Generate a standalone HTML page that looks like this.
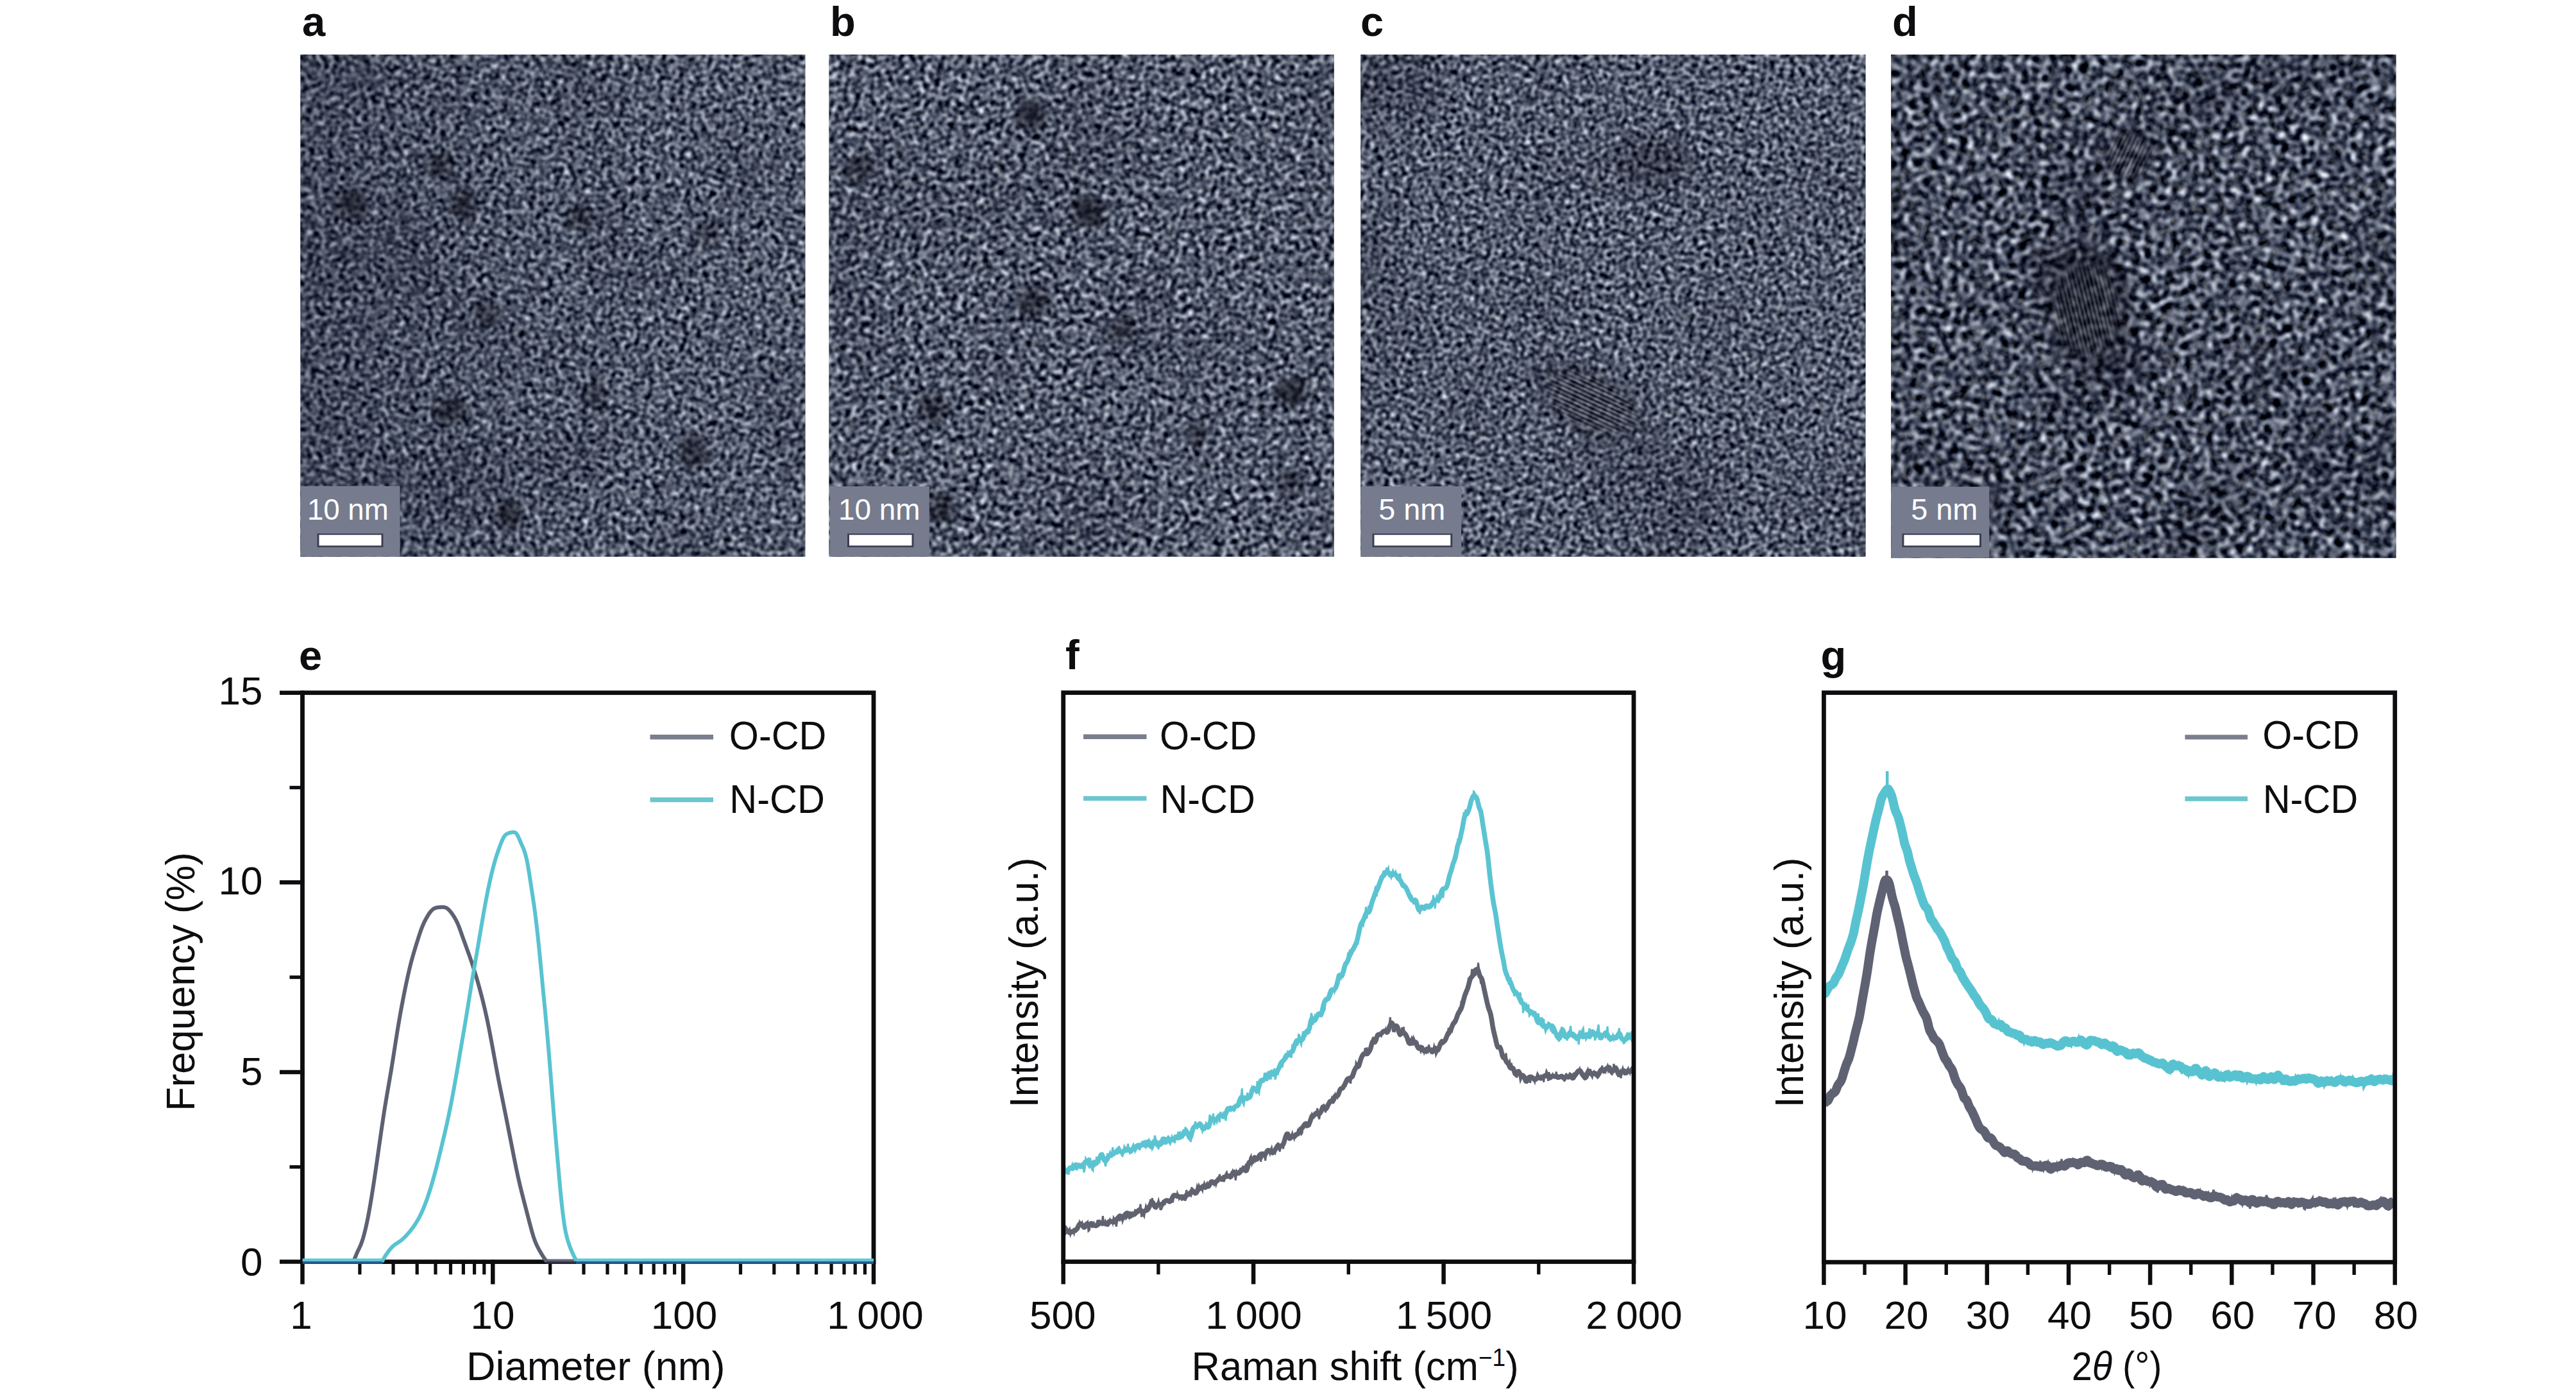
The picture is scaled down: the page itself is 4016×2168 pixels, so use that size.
<!DOCTYPE html>
<html lang="en"><head><meta charset="utf-8"><title>Figure</title>
<style>html,body{margin:0;padding:0;background:#fff;width:4016px;height:2168px;overflow:hidden}svg{display:block}</style></head>
<body>
<svg width="4016" height="2168" viewBox="0 0 4016 2168" font-family="'Liberation Sans', 'DejaVu Sans', sans-serif">
<defs><filter id="n00" x="0" y="0" width="100%" height="100%" filterUnits="objectBoundingBox" color-interpolation-filters="sRGB">
<feTurbulence type="fractalNoise" baseFrequency="0.1150" numOctaves="1" seed="3" result="t"/>
<feColorMatrix in="t" type="matrix" values="1.877 0 0 0 -0.618  1.877 0 0 0 -0.588  1.783 0 0 0 -0.469  0 0 0 0 1"/>
</filter>
<filter id="n01" x="0" y="0" width="100%" height="100%" filterUnits="objectBoundingBox" color-interpolation-filters="sRGB">
<feTurbulence type="fractalNoise" baseFrequency="0.1219" numOctaves="1" seed="103" result="t"/>
<feColorMatrix in="t" type="matrix" values="1.877 0 0 0 -0.618  1.877 0 0 0 -0.588  1.783 0 0 0 -0.469  0 0 0 0 1"/>
</filter>
<clipPath id="cp0"><rect x="468.5" y="85" width="786.8" height="782.5"/></clipPath>
<filter id="n10" x="0" y="0" width="100%" height="100%" filterUnits="objectBoundingBox" color-interpolation-filters="sRGB">
<feTurbulence type="fractalNoise" baseFrequency="0.1100" numOctaves="1" seed="11" result="t"/>
<feColorMatrix in="t" type="matrix" values="2.070 0 0 0 -0.715  2.070 0 0 0 -0.685  1.966 0 0 0 -0.561  0 0 0 0 1"/>
</filter>
<filter id="n11" x="0" y="0" width="100%" height="100%" filterUnits="objectBoundingBox" color-interpolation-filters="sRGB">
<feTurbulence type="fractalNoise" baseFrequency="0.1166" numOctaves="1" seed="111" result="t"/>
<feColorMatrix in="t" type="matrix" values="2.070 0 0 0 -0.715  2.070 0 0 0 -0.685  1.966 0 0 0 -0.561  0 0 0 0 1"/>
</filter>
<clipPath id="cp1"><rect x="1292.6" y="85" width="786.9" height="782.5"/></clipPath>
<filter id="n20" x="0" y="0" width="100%" height="100%" filterUnits="objectBoundingBox" color-interpolation-filters="sRGB">
<feTurbulence type="fractalNoise" baseFrequency="0.1200" numOctaves="1" seed="23" result="t"/>
<feColorMatrix in="t" type="matrix" values="1.932 0 0 0 -0.641  1.932 0 0 0 -0.611  1.835 0 0 0 -0.490  0 0 0 0 1"/>
</filter>
<filter id="n21" x="0" y="0" width="100%" height="100%" filterUnits="objectBoundingBox" color-interpolation-filters="sRGB">
<feTurbulence type="fractalNoise" baseFrequency="0.1272" numOctaves="1" seed="123" result="t"/>
<feColorMatrix in="t" type="matrix" values="1.932 0 0 0 -0.641  1.932 0 0 0 -0.611  1.835 0 0 0 -0.490  0 0 0 0 1"/>
</filter>
<clipPath id="cp2"><rect x="2121.4" y="85" width="786.9" height="782.5"/></clipPath>
<filter id="n30" x="0" y="0" width="100%" height="100%" filterUnits="objectBoundingBox" color-interpolation-filters="sRGB">
<feTurbulence type="fractalNoise" baseFrequency="0.0860" numOctaves="1" seed="41" result="t"/>
<feColorMatrix in="t" type="matrix" values="2.484 0 0 0 -0.972  2.484 0 0 0 -0.942  2.360 0 0 0 -0.805  0 0 0 0 1"/>
</filter>
<filter id="n31" x="0" y="0" width="100%" height="100%" filterUnits="objectBoundingBox" color-interpolation-filters="sRGB">
<feTurbulence type="fractalNoise" baseFrequency="0.0912" numOctaves="1" seed="141" result="t"/>
<feColorMatrix in="t" type="matrix" values="2.484 0 0 0 -0.972  2.484 0 0 0 -0.942  2.360 0 0 0 -0.805  0 0 0 0 1"/>
</filter>
<clipPath id="cp3"><rect x="2948.3" y="85" width="787.0" height="784.5"/></clipPath>
<linearGradient id="ga" x1="0" x2="1" y1="0" y2="0"><stop offset="0" stop-color="#0a0c1c" stop-opacity="0.2"/><stop offset="0.55" stop-color="#0a0c1c" stop-opacity="0"/></linearGradient>
<filter id="lf0" x="0" y="0" width="100%" height="100%" color-interpolation-filters="sRGB"><feTurbulence type="fractalNoise" baseFrequency="0.006" numOctaves="2" seed="5"/><feColorMatrix type="matrix" values="0 0 0 0 0.03  0 0 0 0 0.035  0 0 0 0 0.09  0.5 0 0 0 -0.25"/></filter>
<filter id="lf1" x="0" y="0" width="100%" height="100%" color-interpolation-filters="sRGB"><feTurbulence type="fractalNoise" baseFrequency="0.005" numOctaves="2" seed="9"/><feColorMatrix type="matrix" values="0 0 0 0 0.03  0 0 0 0 0.035  0 0 0 0 0.09  0.5 0 0 0 -0.25"/></filter>
<filter id="lf2" x="0" y="0" width="100%" height="100%" color-interpolation-filters="sRGB"><feTurbulence type="fractalNoise" baseFrequency="0.0045" numOctaves="2" seed="17"/><feColorMatrix type="matrix" values="0 0 0 0 0.03  0 0 0 0 0.035  0 0 0 0 0.09  0.8 0 0 0 -0.4"/></filter>
<filter id="lf3" x="0" y="0" width="100%" height="100%" color-interpolation-filters="sRGB"><feTurbulence type="fractalNoise" baseFrequency="0.006" numOctaves="2" seed="29"/><feColorMatrix type="matrix" values="0 0 0 0 0.03  0 0 0 0 0.035  0 0 0 0 0.09  1.0 0 0 0 -0.5"/></filter>
<pattern id="fr" width="6.4" height="6.4" patternUnits="userSpaceOnUse"><rect width="6.4" height="2.8" fill="#0b0c18"/><rect y="2.8" width="6.4" height="3.6" fill="#9aa2b0"/></pattern><radialGradient id="fm"><stop offset="0" stop-color="#fff"/><stop offset="0.6" stop-color="#fff" stop-opacity="0.8"/><stop offset="1" stop-color="#fff" stop-opacity="0"/></radialGradient>
<radialGradient id="bl"><stop offset="0" stop-color="#0a0a14" stop-opacity="1"/><stop offset="0.55" stop-color="#0a0a14" stop-opacity="0.65"/><stop offset="1" stop-color="#0a0a14" stop-opacity="0"/></radialGradient></defs>
<rect width="4016" height="2168" fill="#fff"/>
<rect x="468.5" y="85" width="786.8" height="782.5" fill="#666b7d"/>
<g clip-path="url(#cp0)"><rect x="281.9" y="-103.8" width="1160" height="1160" filter="url(#n00)" transform="rotate(19 861.9 476.2)"/><rect x="281.9" y="-103.8" width="1160" height="1160" filter="url(#n01)" opacity="0.5" transform="rotate(64 861.9 476.2)"/></g>
<rect x="468.5" y="85" width="786.8" height="782.5" filter="url(#lf0)"/>
<rect x="468.5" y="85" width="786.8" height="782.5" fill="url(#ga)"/>
<ellipse cx="547" cy="319" rx="31.2" ry="31.2" fill="url(#bl)" opacity="0.63" transform="rotate(0 547 319)"/>
<ellipse cx="688" cy="256" rx="28.8" ry="28.8" fill="url(#bl)" opacity="0.56" transform="rotate(0 688 256)"/>
<ellipse cx="723" cy="319" rx="28.8" ry="33.6" fill="url(#bl)" opacity="0.63" transform="rotate(0 723 319)"/>
<ellipse cx="905" cy="340" rx="28.8" ry="28.8" fill="url(#bl)" opacity="0.49" transform="rotate(0 905 340)"/>
<ellipse cx="1102" cy="365" rx="28.8" ry="28.8" fill="url(#bl)" opacity="0.42" transform="rotate(0 1102 365)"/>
<ellipse cx="758" cy="491" rx="31.2" ry="28.8" fill="url(#bl)" opacity="0.49" transform="rotate(0 758 491)"/>
<ellipse cx="926" cy="618" rx="28.8" ry="31.2" fill="url(#bl)" opacity="0.49" transform="rotate(0 926 618)"/>
<ellipse cx="702" cy="639" rx="33.6" ry="28.8" fill="url(#bl)" opacity="0.63" transform="rotate(0 702 639)"/>
<ellipse cx="1081" cy="705" rx="31.2" ry="36.0" fill="url(#bl)" opacity="0.63" transform="rotate(0 1081 705)"/>
<ellipse cx="793" cy="800" rx="28.8" ry="31.2" fill="url(#bl)" opacity="0.63" transform="rotate(0 793 800)"/>
<rect x="469" y="757.5" width="154.5" height="110.0" fill="#767c8e"/>
<text x="478.9" y="810" font-size="45.5" fill="#fff" textLength="126.8" lengthAdjust="spacingAndGlyphs">10 nm</text>
<rect x="494.5" y="831.5" width="103.0" height="21.5" fill="#3c3f52"/>
<rect x="497.5" y="833.7" width="97.0" height="16.6" fill="#fff"/>
<rect x="1292.6" y="85" width="786.9" height="782.5" fill="#666b7d"/>
<g clip-path="url(#cp1)"><rect x="1106.0" y="-103.8" width="1160" height="1160" filter="url(#n10)" transform="rotate(19 1686.0 476.2)"/><rect x="1106.0" y="-103.8" width="1160" height="1160" filter="url(#n11)" opacity="0.5" transform="rotate(64 1686.0 476.2)"/></g>
<rect x="1292.6" y="85" width="786.9" height="782.5" filter="url(#lf1)"/>
<ellipse cx="1607" cy="179" rx="33.6" ry="33.6" fill="url(#bl)" opacity="0.7" transform="rotate(0 1607 179)"/>
<ellipse cx="1340" cy="263" rx="31.2" ry="31.2" fill="url(#bl)" opacity="0.56" transform="rotate(0 1340 263)"/>
<ellipse cx="1698" cy="330" rx="33.6" ry="33.6" fill="url(#bl)" opacity="0.77" transform="rotate(0 1698 330)"/>
<ellipse cx="1611" cy="470" rx="33.6" ry="33.6" fill="url(#bl)" opacity="0.63" transform="rotate(0 1611 470)"/>
<ellipse cx="1747" cy="516" rx="31.2" ry="28.8" fill="url(#bl)" opacity="0.49" transform="rotate(0 1747 516)"/>
<ellipse cx="2014" cy="611" rx="36.0" ry="31.2" fill="url(#bl)" opacity="0.7" transform="rotate(0 2014 611)"/>
<ellipse cx="1453" cy="635" rx="33.6" ry="31.2" fill="url(#bl)" opacity="0.63" transform="rotate(0 1453 635)"/>
<ellipse cx="1867" cy="677" rx="28.8" ry="28.8" fill="url(#bl)" opacity="0.42" transform="rotate(0 1867 677)"/>
<ellipse cx="2014" cy="751" rx="28.8" ry="28.8" fill="url(#bl)" opacity="0.49" transform="rotate(0 2014 751)"/>
<ellipse cx="1467" cy="793" rx="31.2" ry="33.6" fill="url(#bl)" opacity="0.63" transform="rotate(0 1467 793)"/>
<rect x="1293.5" y="758" width="155.3" height="109.5" fill="#767c8e"/>
<text x="1307.0" y="810" font-size="45.5" fill="#fff" textLength="127.5" lengthAdjust="spacingAndGlyphs">10 nm</text>
<rect x="1321.0" y="831.5" width="103.5" height="21.5" fill="#3c3f52"/>
<rect x="1324.0" y="833.7" width="97.5" height="16.6" fill="#fff"/>
<rect x="2121.4" y="85" width="786.9" height="782.5" fill="#666b7d"/>
<g clip-path="url(#cp2)"><rect x="1934.8" y="-103.8" width="1160" height="1160" filter="url(#n20)" transform="rotate(19 2514.8 476.2)"/><rect x="1934.8" y="-103.8" width="1160" height="1160" filter="url(#n21)" opacity="0.5" transform="rotate(64 2514.8 476.2)"/></g>
<rect x="2121.4" y="85" width="786.9" height="782.5" filter="url(#lf2)"/>
<ellipse cx="2480" cy="627" rx="114.0" ry="62.4" fill="url(#bl)" opacity="0.53" transform="rotate(28 2480 627)"/>
<ellipse cx="2577" cy="253" rx="72.0" ry="60.0" fill="url(#bl)" opacity="0.35" transform="rotate(0 2577 253)"/>
<mask id="m20"><ellipse cx="2482" cy="628" rx="84" ry="44" fill="url(#fm)" transform="rotate(25 2482 628)"/></mask>
<g mask="url(#m20)" opacity="0.42"><rect x="-200" y="-200" width="400" height="400" fill="url(#fr)" transform="translate(2482 628) rotate(25)"/></g>
<rect x="2121.5" y="758" width="156.7" height="109.5" fill="#767c8e"/>
<text x="2149.2" y="810" font-size="45.5" fill="#fff" textLength="104.2" lengthAdjust="spacingAndGlyphs">5 nm</text>
<rect x="2139.5" y="831.5" width="124.8" height="21.5" fill="#3c3f52"/>
<rect x="2142.5" y="833.7" width="118.8" height="16.6" fill="#fff"/>
<rect x="2948.3" y="85" width="787.0" height="784.5" fill="#666b7d"/>
<g clip-path="url(#cp3)"><rect x="2761.8" y="-102.8" width="1160" height="1160" filter="url(#n30)" transform="rotate(19 3341.8 477.2)"/><rect x="2761.8" y="-102.8" width="1160" height="1160" filter="url(#n31)" opacity="0.5" transform="rotate(64 3341.8 477.2)"/></g>
<rect x="2948.3" y="85" width="787.0" height="784.5" filter="url(#lf3)"/>
<ellipse cx="3253" cy="479" rx="86.4" ry="117.6" fill="url(#bl)" opacity="0.63" transform="rotate(0 3253 479)"/>
<ellipse cx="3318" cy="240" rx="57.6" ry="57.6" fill="url(#bl)" opacity="0.42" transform="rotate(0 3318 240)"/>
<mask id="m30"><ellipse cx="3253" cy="482" rx="58" ry="80" fill="url(#fm)" transform="rotate(0 3253 482)"/></mask>
<g mask="url(#m30)" opacity="0.26"><rect x="-200" y="-200" width="400" height="400" fill="url(#fr)" transform="translate(3253 482) rotate(76)"/></g>
<mask id="m31"><ellipse cx="3318" cy="242" rx="40" ry="40" fill="url(#fm)" transform="rotate(0 3318 242)"/></mask>
<g mask="url(#m31)" opacity="0.22"><rect x="-200" y="-200" width="400" height="400" fill="url(#fr)" transform="translate(3318 242) rotate(115)"/></g>
<rect x="2948.3" y="758.6" width="153" height="110.9" fill="#767c8e"/>
<text x="2979.2" y="810" font-size="45.5" fill="#fff" textLength="104.2" lengthAdjust="spacingAndGlyphs">5 nm</text>
<rect x="2965.4" y="831.5" width="123.6" height="21.5" fill="#3c3f52"/>
<rect x="2968.4" y="833.7" width="117.6" height="16.6" fill="#fff"/>
<text x="471" y="56" font-size="65" font-weight="700" fill="#0d0d10">a</text>
<text x="1294" y="56" font-size="65" font-weight="700" fill="#0d0d10">b</text>
<text x="2121" y="56" font-size="65" font-weight="700" fill="#0d0d10">c</text>
<text x="2950" y="56" font-size="65" font-weight="700" fill="#0d0d10">d</text>
<text x="466" y="1044" font-size="65" font-weight="700" fill="#0d0d10">e</text>
<text x="1661" y="1043" font-size="65" font-weight="700" fill="#0d0d10">f</text>
<text x="2838.5" y="1044" font-size="65" font-weight="700" fill="#0d0d10">g</text>
<rect x="471.5" y="1079.7" width="890.5" height="886.8999999999999" fill="none" stroke="#0d0d10" stroke-width="6.8"/>
<line x1="560.9" y1="1966.6" x2="560.9" y2="1986.3999999999999" stroke="#0d0d10" stroke-width="5.2"/>
<line x1="613.1" y1="1966.6" x2="613.1" y2="1986.3999999999999" stroke="#0d0d10" stroke-width="5.2"/>
<line x1="650.2" y1="1966.6" x2="650.2" y2="1986.3999999999999" stroke="#0d0d10" stroke-width="5.2"/>
<line x1="679.0" y1="1966.6" x2="679.0" y2="1986.3999999999999" stroke="#0d0d10" stroke-width="5.2"/>
<line x1="702.5" y1="1966.6" x2="702.5" y2="1986.3999999999999" stroke="#0d0d10" stroke-width="5.2"/>
<line x1="722.4" y1="1966.6" x2="722.4" y2="1986.3999999999999" stroke="#0d0d10" stroke-width="5.2"/>
<line x1="739.6" y1="1966.6" x2="739.6" y2="1986.3999999999999" stroke="#0d0d10" stroke-width="5.2"/>
<line x1="754.8" y1="1966.6" x2="754.8" y2="1986.3999999999999" stroke="#0d0d10" stroke-width="5.2"/>
<line x1="857.7" y1="1966.6" x2="857.7" y2="1986.3999999999999" stroke="#0d0d10" stroke-width="5.2"/>
<line x1="910.0" y1="1966.6" x2="910.0" y2="1986.3999999999999" stroke="#0d0d10" stroke-width="5.2"/>
<line x1="947.0" y1="1966.6" x2="947.0" y2="1986.3999999999999" stroke="#0d0d10" stroke-width="5.2"/>
<line x1="975.8" y1="1966.6" x2="975.8" y2="1986.3999999999999" stroke="#0d0d10" stroke-width="5.2"/>
<line x1="999.3" y1="1966.6" x2="999.3" y2="1986.3999999999999" stroke="#0d0d10" stroke-width="5.2"/>
<line x1="1019.2" y1="1966.6" x2="1019.2" y2="1986.3999999999999" stroke="#0d0d10" stroke-width="5.2"/>
<line x1="1036.4" y1="1966.6" x2="1036.4" y2="1986.3999999999999" stroke="#0d0d10" stroke-width="5.2"/>
<line x1="1051.6" y1="1966.6" x2="1051.6" y2="1986.3999999999999" stroke="#0d0d10" stroke-width="5.2"/>
<line x1="1154.5" y1="1966.6" x2="1154.5" y2="1986.3999999999999" stroke="#0d0d10" stroke-width="5.2"/>
<line x1="1206.8" y1="1966.6" x2="1206.8" y2="1986.3999999999999" stroke="#0d0d10" stroke-width="5.2"/>
<line x1="1243.9" y1="1966.6" x2="1243.9" y2="1986.3999999999999" stroke="#0d0d10" stroke-width="5.2"/>
<line x1="1272.6" y1="1966.6" x2="1272.6" y2="1986.3999999999999" stroke="#0d0d10" stroke-width="5.2"/>
<line x1="1296.1" y1="1966.6" x2="1296.1" y2="1986.3999999999999" stroke="#0d0d10" stroke-width="5.2"/>
<line x1="1316.0" y1="1966.6" x2="1316.0" y2="1986.3999999999999" stroke="#0d0d10" stroke-width="5.2"/>
<line x1="1333.2" y1="1966.6" x2="1333.2" y2="1986.3999999999999" stroke="#0d0d10" stroke-width="5.2"/>
<line x1="1348.4" y1="1966.6" x2="1348.4" y2="1986.3999999999999" stroke="#0d0d10" stroke-width="5.2"/>
<line x1="471.5" y1="1963.6" x2="471.5" y2="2001.6" stroke="#0d0d10" stroke-width="6.5"/>
<line x1="768.3" y1="1963.6" x2="768.3" y2="2001.6" stroke="#0d0d10" stroke-width="6.5"/>
<line x1="1065.2" y1="1963.6" x2="1065.2" y2="2001.6" stroke="#0d0d10" stroke-width="6.5"/>
<line x1="1362.0" y1="1963.6" x2="1362.0" y2="2001.6" stroke="#0d0d10" stroke-width="6.5"/>
<line x1="474.5" y1="1966.6" x2="436.0" y2="1966.6" stroke="#0d0d10" stroke-width="6.5"/>
<line x1="471.5" y1="1818.8" x2="451.5" y2="1818.8" stroke="#0d0d10" stroke-width="5.4"/>
<line x1="474.5" y1="1671.0" x2="436.0" y2="1671.0" stroke="#0d0d10" stroke-width="6.5"/>
<line x1="471.5" y1="1523.1" x2="451.5" y2="1523.1" stroke="#0d0d10" stroke-width="5.4"/>
<line x1="474.5" y1="1375.3" x2="436.0" y2="1375.3" stroke="#0d0d10" stroke-width="6.5"/>
<line x1="471.5" y1="1227.5" x2="451.5" y2="1227.5" stroke="#0d0d10" stroke-width="5.4"/>
<line x1="474.5" y1="1079.7" x2="436.0" y2="1079.7" stroke="#0d0d10" stroke-width="6.5"/>
<text x="409.5" y="1987.8" font-size="62" text-anchor="end" fill="#0d0d10" >0</text>
<text x="409.5" y="1691.0" font-size="62" text-anchor="end" fill="#0d0d10" >5</text>
<text x="409.5" y="1393.8" font-size="62" text-anchor="end" fill="#0d0d10" >10</text>
<text x="409.5" y="1097.5" font-size="62" text-anchor="end" fill="#0d0d10" >15</text>
<text x="469.5" y="2070.7" font-size="62" text-anchor="middle" fill="#0d0d10" >1</text>
<text x="768.0" y="2070.7" font-size="62" text-anchor="middle" fill="#0d0d10" >10</text>
<text x="1066.5" y="2070.7" font-size="62" text-anchor="middle" fill="#0d0d10" >100</text>
<text x="1364.5" y="2070.7" font-size="62" text-anchor="middle" fill="#0d0d10" >1 000</text>
<text x="727" y="2151" font-size="63" fill="#0d0d10" textLength="403.5" lengthAdjust="spacingAndGlyphs">Diameter (nm)</text>
<text transform="translate(303.4 1731.8) rotate(-90)" font-size="63" fill="#0d0d10" textLength="403.5" lengthAdjust="spacingAndGlyphs">Frequency (%)</text>
<clipPath id="ce"><rect x="471.5" y="1079.7" width="890.5" height="890.0999999999999"/></clipPath>
<g clip-path="url(#ce)">
<line x1="471.5" y1="1964.6" x2="552.0" y2="1964.6" stroke="#60647a" stroke-width="4.2"/>
<line x1="851.5" y1="1964.6" x2="1362" y2="1964.6" stroke="#60647a" stroke-width="4.2"/>
<line x1="851.5" y1="1968.2" x2="1362" y2="1968.2" stroke="#2f2b38" stroke-width="3.4"/>
<polyline points="551.0,1966.5 552.5,1962.7 554.0,1959.0 555.5,1955.4 557.0,1951.9 558.5,1948.6 560.0,1945.6 561.5,1942.3 563.0,1938.7 564.5,1934.5 566.0,1929.8 567.5,1924.5 569.0,1918.7 570.5,1912.4 572.0,1905.6 573.5,1898.3 575.0,1890.4 576.5,1882.1 578.0,1873.3 579.5,1864.2 581.0,1854.8 582.5,1845.1 584.0,1835.1 585.5,1824.9 587.0,1814.6 588.5,1804.2 590.0,1793.7 591.5,1783.2 593.0,1772.8 594.5,1762.4 596.0,1752.1 597.5,1742.1 599.0,1732.3 600.5,1722.9 602.0,1713.9 603.5,1705.1 605.0,1696.5 606.5,1687.8 608.0,1679.1 609.5,1670.2 611.0,1661.0 612.5,1651.6 614.0,1642.0 615.5,1632.4 617.0,1622.8 618.5,1613.3 620.0,1604.0 621.5,1595.0 623.0,1586.3 624.5,1577.8 626.0,1569.6 627.5,1561.7 629.0,1554.0 630.5,1546.4 632.0,1539.0 633.5,1531.8 635.0,1524.8 636.5,1518.1 638.0,1511.6 639.5,1505.5 641.0,1499.6 642.5,1494.1 644.0,1488.7 645.5,1483.6 647.0,1478.6 648.5,1473.7 650.0,1468.9 651.5,1464.1 653.0,1459.4 654.5,1454.9 656.0,1450.5 657.5,1446.4 659.0,1442.7 660.5,1439.3 662.0,1436.1 663.5,1433.2 665.0,1430.5 666.5,1427.9 668.0,1425.5 669.5,1423.3 671.0,1421.2 672.5,1419.5 674.0,1418.0 675.5,1416.8 677.0,1415.9 678.5,1415.3 680.0,1414.8 681.5,1414.5 683.0,1414.3 684.5,1414.1 686.0,1414.0 687.5,1413.9 689.0,1413.8 690.5,1413.8 692.0,1413.9 693.5,1414.2 695.0,1414.6 696.5,1415.4 698.0,1416.4 699.5,1417.8 701.0,1419.3 702.5,1421.1 704.0,1423.1 705.5,1425.2 707.0,1427.4 708.5,1429.8 710.0,1432.4 711.5,1435.3 713.0,1438.4 714.5,1441.9 716.0,1445.7 717.5,1449.8 719.0,1453.9 720.5,1458.2 722.0,1462.4 723.5,1466.6 725.0,1470.8 726.5,1474.9 728.0,1479.0 729.5,1483.1 731.0,1487.3 732.5,1491.5 734.0,1495.9 735.5,1500.3 737.0,1504.8 738.5,1509.5 740.0,1514.3 741.5,1519.2 743.0,1524.2 744.5,1529.3 746.0,1534.5 747.5,1539.9 749.0,1545.5 750.5,1551.2 752.0,1557.1 753.5,1563.1 755.0,1569.4 756.5,1575.8 758.0,1582.5 759.5,1589.4 761.0,1596.6 762.5,1604.0 764.0,1611.7 765.5,1619.6 767.0,1627.7 768.5,1635.8 770.0,1644.1 771.5,1652.3 773.0,1660.5 774.5,1668.6 776.0,1676.5 777.5,1684.2 779.0,1691.8 780.5,1699.3 782.0,1706.7 783.5,1714.1 785.0,1721.5 786.5,1729.0 788.0,1736.5 789.5,1744.0 791.0,1751.5 792.5,1759.0 794.0,1766.6 795.5,1774.1 797.0,1781.8 798.5,1789.4 800.0,1797.1 801.5,1804.7 803.0,1812.2 804.5,1819.6 806.0,1826.7 807.5,1833.6 809.0,1840.2 810.5,1846.6 812.0,1852.9 813.5,1858.9 815.0,1864.8 816.5,1870.7 818.0,1876.5 819.5,1882.3 821.0,1888.0 822.5,1893.8 824.0,1899.6 825.5,1905.4 827.0,1911.1 828.5,1916.6 830.0,1921.9 831.5,1926.9 833.0,1931.4 834.5,1935.3 836.0,1938.9 837.5,1942.1 839.0,1945.1 840.5,1947.9 842.0,1950.5 843.5,1953.1 845.0,1955.6 846.5,1958.0 848.0,1960.3 849.5,1962.5 851.0,1964.6 852.5,1966.5" fill="none" stroke="#5d6172" stroke-width="6" stroke-linejoin="round"/>
<line x1="471.5" y1="1963.8" x2="597.0" y2="1963.8" stroke="#62c6d6" stroke-width="4.6"/>
<line x1="471.5" y1="1968.0" x2="597.0" y2="1968.0" stroke="#245a90" stroke-width="3.8"/>
<line x1="898.0" y1="1963.8" x2="1362" y2="1963.8" stroke="#62c6d6" stroke-width="4.6"/>
<line x1="898.0" y1="1968.0" x2="1362" y2="1968.0" stroke="#245a90" stroke-width="3.8"/>
<polyline points="595.5,1966.5 597.0,1963.8 598.5,1961.1 600.0,1958.6 601.5,1956.2 603.0,1954.0 604.5,1951.9 606.0,1949.9 607.5,1947.9 609.0,1946.1 610.5,1944.4 612.0,1942.9 613.5,1941.5 615.0,1940.3 616.5,1939.2 618.0,1938.2 619.5,1937.2 621.0,1936.3 622.5,1935.3 624.0,1934.3 625.5,1933.2 627.0,1931.9 628.5,1930.6 630.0,1929.2 631.5,1927.7 633.0,1926.1 634.5,1924.5 636.0,1922.8 637.5,1921.1 639.0,1919.3 640.5,1917.4 642.0,1915.5 643.5,1913.5 645.0,1911.4 646.5,1909.2 648.0,1906.9 649.5,1904.5 651.0,1902.0 652.5,1899.4 654.0,1896.6 655.5,1893.7 657.0,1890.6 658.5,1887.2 660.0,1883.7 661.5,1880.0 663.0,1876.1 664.5,1872.1 666.0,1867.9 667.5,1863.5 669.0,1859.0 670.5,1854.3 672.0,1849.4 673.5,1844.4 675.0,1839.2 676.5,1833.9 678.0,1828.4 679.5,1822.8 681.0,1816.9 682.5,1811.0 684.0,1804.9 685.5,1798.8 687.0,1792.7 688.5,1786.5 690.0,1780.2 691.5,1774.0 693.0,1767.6 694.5,1761.2 696.0,1754.6 697.5,1747.8 699.0,1740.9 700.5,1733.7 702.0,1726.4 703.5,1718.8 705.0,1711.0 706.5,1703.0 708.0,1694.8 709.5,1686.4 711.0,1677.8 712.5,1669.1 714.0,1660.4 715.5,1651.5 717.0,1642.6 718.5,1633.8 720.0,1624.9 721.5,1616.2 723.0,1607.4 724.5,1598.7 726.0,1589.8 727.5,1580.7 729.0,1571.5 730.5,1562.2 732.0,1552.7 733.5,1543.4 735.0,1534.1 736.5,1525.0 738.0,1516.2 739.5,1507.4 741.0,1498.9 742.5,1490.3 744.0,1481.7 745.5,1472.9 747.0,1464.1 748.5,1455.2 750.0,1446.3 751.5,1437.5 753.0,1428.8 754.5,1420.3 756.0,1412.0 757.5,1403.9 759.0,1396.1 760.5,1388.6 762.0,1381.3 763.5,1374.4 765.0,1367.7 766.5,1361.3 768.0,1355.1 769.5,1349.4 771.0,1343.9 772.5,1338.8 774.0,1334.0 775.5,1329.5 777.0,1325.2 778.5,1321.0 780.0,1317.0 781.5,1313.2 783.0,1309.6 784.5,1306.5 786.0,1303.9 787.5,1301.9 789.0,1300.5 790.5,1299.6 792.0,1298.9 793.5,1298.4 795.0,1297.9 796.5,1297.6 798.0,1297.3 799.5,1297.1 801.0,1297.1 802.5,1297.4 804.0,1298.2 805.5,1299.8 807.0,1302.1 808.5,1305.2 810.0,1308.7 811.5,1312.2 813.0,1315.7 814.5,1319.1 816.0,1322.6 817.5,1326.5 819.0,1331.1 820.5,1336.9 822.0,1343.9 823.5,1352.1 825.0,1361.3 826.5,1371.0 828.0,1380.7 829.5,1390.5 831.0,1400.4 832.5,1410.7 834.0,1421.7 835.5,1433.5 837.0,1446.1 838.5,1459.7 840.0,1474.0 841.5,1489.1 843.0,1504.6 844.5,1520.3 846.0,1536.1 847.5,1551.7 849.0,1567.2 850.5,1582.9 852.0,1599.0 853.5,1615.7 855.0,1633.1 856.5,1651.1 858.0,1669.6 859.5,1688.4 861.0,1707.3 862.5,1726.0 864.0,1744.6 865.5,1762.8 867.0,1780.5 868.5,1798.0 870.0,1815.1 871.5,1832.0 873.0,1848.4 874.5,1864.1 876.0,1878.6 877.5,1891.5 879.0,1902.9 880.5,1913.1 882.0,1921.0 883.5,1927.4 885.0,1932.8 886.5,1937.5 888.0,1941.9 889.5,1945.8 891.0,1949.4 892.5,1952.8 894.0,1956.1 895.5,1959.1 897.0,1962.1 898.5,1964.8" fill="none" stroke="#58c3d1" stroke-width="6" stroke-linejoin="round"/>
</g>
<line x1="1013.5" y1="1148.7" x2="1112" y2="1148.7" stroke="#7b7e8c" stroke-width="7.4"/>
<line x1="1013.5" y1="1246.5" x2="1112" y2="1246.5" stroke="#6cc6cf" stroke-width="7.4"/>
<text x="1136.8" y="1167.5" font-size="63" fill="#0d0d10" textLength="151.5" lengthAdjust="spacingAndGlyphs">O-CD</text>
<text x="1137.3" y="1267" font-size="63" fill="#0d0d10" textLength="148.5" lengthAdjust="spacingAndGlyphs">N-CD</text>
<clipPath id="cf"><rect x="1657.7" y="1079.6" width="889.3" height="886.9000000000001"/></clipPath>
<polyline clip-path="url(#cf)" points="1657.7,1922.7 1659.1,1921.7 1660.5,1920.0 1661.9,1918.2 1663.3,1917.5 1664.7,1918.5 1666.1,1920.5 1667.5,1921.4 1668.9,1920.3 1670.3,1919.5 1671.7,1919.8 1673.1,1919.7 1674.5,1918.3 1675.9,1917.1 1677.3,1916.8 1678.7,1915.9 1680.1,1913.4 1681.5,1910.4 1682.9,1908.1 1684.3,1907.1 1685.7,1907.7 1687.1,1909.4 1688.5,1911.3 1689.9,1912.8 1691.3,1912.4 1692.7,1909.8 1694.1,1907.6 1695.5,1908.1 1696.9,1909.6 1698.3,1909.3 1699.7,1907.7 1701.1,1906.8 1702.5,1907.1 1703.9,1908.6 1705.3,1909.9 1706.7,1910.1 1708.1,1910.2 1709.5,1910.1 1710.9,1909.1 1712.3,1908.2 1713.7,1907.6 1715.1,1906.5 1716.5,1905.9 1717.9,1906.7 1719.3,1907.1 1720.7,1906.4 1722.1,1906.2 1723.5,1906.6 1724.9,1907.7 1726.3,1908.4 1727.7,1906.8 1729.1,1904.1 1730.5,1903.3 1731.9,1903.7 1733.3,1904.0 1734.7,1904.0 1736.1,1904.3 1737.5,1904.7 1738.9,1903.8 1740.3,1901.5 1741.7,1899.4 1743.1,1897.9 1744.5,1896.3 1745.9,1895.1 1747.3,1895.4 1748.7,1897.4 1750.1,1899.0 1751.5,1897.7 1752.9,1894.7 1754.3,1892.6 1755.7,1891.4 1757.1,1890.5 1758.5,1891.4 1759.9,1894.1 1761.3,1896.1 1762.7,1895.4 1764.1,1893.2 1765.5,1891.9 1766.9,1892.4 1768.3,1892.8 1769.7,1891.6 1771.1,1890.1 1772.5,1889.3 1773.9,1888.2 1775.3,1886.4 1776.7,1885.4 1778.1,1885.9 1779.5,1887.7 1780.9,1889.3 1782.3,1889.3 1783.7,1888.2 1785.1,1887.2 1786.5,1886.7 1787.9,1886.4 1789.3,1885.2 1790.7,1882.9 1792.1,1880.2 1793.5,1877.3 1794.9,1874.5 1796.3,1873.4 1797.7,1874.8 1799.1,1877.8 1800.5,1880.9 1801.9,1881.7 1803.3,1879.6 1804.7,1877.6 1806.1,1877.5 1807.5,1877.7 1808.9,1877.3 1810.3,1877.1 1811.7,1876.9 1813.1,1875.6 1814.5,1873.5 1815.9,1872.3 1817.3,1871.6 1818.7,1871.0 1820.1,1871.1 1821.5,1871.9 1822.9,1872.9 1824.3,1872.5 1825.7,1870.7 1827.1,1868.1 1828.5,1865.2 1829.9,1863.1 1831.3,1862.9 1832.7,1863.4 1834.1,1863.7 1835.5,1864.0 1836.9,1864.4 1838.3,1865.1 1839.7,1865.9 1841.1,1865.9 1842.5,1865.1 1843.9,1865.2 1845.3,1867.0 1846.7,1867.7 1848.1,1865.5 1849.5,1862.7 1850.9,1861.1 1852.3,1860.9 1853.7,1861.2 1855.1,1860.3 1856.5,1858.3 1857.9,1856.5 1859.3,1855.7 1860.7,1856.8 1862.1,1858.9 1863.5,1859.9 1864.9,1859.2 1866.3,1856.9 1867.7,1854.5 1869.1,1853.0 1870.5,1852.6 1871.9,1852.2 1873.3,1851.1 1874.7,1849.4 1876.1,1848.6 1877.5,1849.8 1878.9,1850.8 1880.3,1849.8 1881.7,1848.8 1883.1,1849.3 1884.5,1848.7 1885.9,1846.1 1887.3,1843.4 1888.7,1841.9 1890.1,1841.9 1891.5,1843.3 1892.9,1843.9 1894.3,1843.0 1895.7,1841.8 1897.1,1840.9 1898.5,1839.5 1899.9,1837.5 1901.3,1836.1 1902.7,1836.6 1904.1,1838.0 1905.5,1838.2 1906.9,1837.1 1908.3,1835.6 1909.7,1834.2 1911.1,1833.8 1912.5,1833.7 1913.9,1833.2 1915.3,1832.9 1916.7,1833.7 1918.1,1834.5 1919.5,1833.5 1920.9,1830.5 1922.3,1827.4 1923.7,1826.7 1925.1,1828.3 1926.5,1829.3 1927.9,1828.8 1929.3,1828.5 1930.7,1828.6 1932.1,1828.1 1933.5,1826.6 1934.9,1824.8 1936.3,1823.1 1937.7,1821.9 1939.1,1822.1 1940.5,1823.4 1941.9,1824.8 1943.3,1824.4 1944.7,1820.5 1946.1,1814.8 1947.5,1811.6 1948.9,1811.4 1950.3,1811.7 1951.7,1811.3 1953.1,1809.2 1954.5,1805.7 1955.9,1804.3 1957.3,1805.7 1958.7,1807.1 1960.1,1806.5 1961.5,1804.4 1962.9,1801.7 1964.3,1799.8 1965.7,1798.9 1967.1,1798.2 1968.5,1798.4 1969.9,1799.9 1971.3,1800.6 1972.7,1799.1 1974.1,1796.4 1975.5,1794.0 1976.9,1792.9 1978.3,1793.0 1979.7,1793.6 1981.1,1794.4 1982.5,1795.7 1983.9,1796.8 1985.3,1796.1 1986.7,1793.7 1988.1,1791.8 1989.5,1789.8 1990.9,1787.2 1992.3,1785.2 1993.7,1785.5 1995.1,1786.5 1996.5,1786.3 1997.9,1785.5 1999.3,1784.9 2000.7,1783.3 2002.1,1779.3 2003.5,1774.3 2004.9,1770.1 2006.3,1767.3 2007.7,1767.4 2009.1,1771.3 2010.5,1774.6 2011.9,1773.7 2013.3,1771.2 2014.7,1770.7 2016.1,1771.6 2017.5,1771.4 2018.9,1769.7 2020.3,1768.4 2021.7,1767.9 2023.1,1767.5 2024.5,1765.8 2025.9,1762.8 2027.3,1760.1 2028.7,1758.8 2030.1,1757.9 2031.5,1756.3 2032.9,1753.9 2034.3,1752.0 2035.7,1751.2 2037.1,1752.0 2038.5,1753.6 2039.9,1753.3 2041.3,1750.6 2042.7,1747.0 2044.1,1742.6 2045.5,1739.2 2046.9,1738.5 2048.3,1738.6 2049.7,1737.3 2051.1,1735.4 2052.5,1735.0 2053.9,1735.9 2055.3,1736.6 2056.7,1736.0 2058.1,1734.6 2059.5,1732.4 2060.9,1728.6 2062.3,1725.2 2063.7,1724.9 2065.1,1727.3 2066.5,1728.7 2067.9,1727.6 2069.3,1724.9 2070.7,1721.8 2072.1,1719.0 2073.5,1716.9 2074.9,1716.1 2076.3,1716.5 2077.7,1716.6 2079.1,1714.3 2080.5,1710.5 2081.9,1707.8 2083.3,1707.5 2084.7,1708.1 2086.1,1706.6 2087.5,1702.9 2088.9,1699.0 2090.3,1696.8 2091.7,1696.4 2093.1,1695.9 2094.5,1693.8 2095.9,1691.2 2097.3,1688.7 2098.7,1685.7 2100.1,1682.7 2101.5,1681.2 2102.9,1680.8 2104.3,1680.4 2105.7,1679.7 2107.1,1679.1 2108.5,1677.1 2109.9,1673.1 2111.3,1669.1 2112.7,1666.2 2114.1,1663.8 2115.5,1662.4 2116.9,1662.5 2118.3,1661.4 2119.7,1657.3 2121.1,1652.2 2122.5,1648.3 2123.9,1645.5 2125.3,1643.1 2126.7,1642.2 2128.1,1642.4 2129.5,1642.5 2130.9,1642.6 2132.3,1641.9 2133.7,1639.9 2135.1,1637.8 2136.5,1634.9 2137.9,1629.8 2139.3,1624.6 2140.7,1622.4 2142.1,1623.4 2143.5,1624.2 2144.9,1621.7 2146.3,1616.9 2147.7,1613.4 2149.1,1612.4 2150.5,1612.4 2151.9,1611.9 2153.3,1611.0 2154.7,1609.6 2156.1,1608.1 2157.5,1607.1 2158.9,1606.8 2160.3,1607.3 2161.7,1608.4 2163.1,1608.6 2164.5,1605.9 2165.9,1601.3 2167.3,1597.5 2168.7,1595.3 2170.1,1594.5 2171.5,1596.4 2172.9,1600.0 2174.3,1601.6 2175.7,1600.3 2177.1,1599.0 2178.5,1600.4 2179.9,1604.6 2181.3,1609.8 2182.7,1612.6 2184.1,1611.4 2185.5,1608.7 2186.9,1608.1 2188.3,1609.4 2189.7,1610.8 2191.1,1612.0 2192.5,1614.1 2193.9,1617.7 2195.3,1622.3 2196.7,1625.7 2198.1,1626.5 2199.5,1626.1 2200.9,1626.0 2202.3,1625.9 2203.7,1625.4 2205.1,1624.6 2206.5,1624.4 2207.9,1626.5 2209.3,1630.0 2210.7,1632.9 2212.1,1634.2 2213.5,1633.5 2214.9,1632.1 2216.3,1632.6 2217.7,1635.1 2219.1,1637.2 2220.5,1638.5 2221.9,1638.5 2223.3,1636.8 2224.7,1634.7 2226.1,1634.8 2227.5,1636.0 2228.9,1636.0 2230.3,1636.0 2231.7,1637.8 2233.1,1639.3 2234.5,1638.3 2235.9,1635.4 2237.3,1633.5 2238.7,1634.5 2240.1,1636.7 2241.5,1636.9 2242.9,1634.5 2244.3,1630.6 2245.7,1626.6 2247.1,1624.0 2248.5,1623.7 2249.9,1623.7 2251.3,1623.0 2252.7,1621.8 2254.1,1619.1 2255.5,1615.3 2256.9,1612.6 2258.3,1610.9 2259.7,1608.9 2261.1,1606.0 2262.5,1602.7 2263.9,1599.4 2265.3,1596.1 2266.7,1593.9 2268.1,1592.8 2269.5,1590.4 2270.9,1586.2 2272.3,1582.2 2273.7,1579.0 2275.1,1576.6 2276.5,1574.7 2277.9,1572.1 2279.3,1568.1 2280.7,1562.8 2282.1,1557.2 2283.5,1552.1 2284.9,1547.9 2286.3,1544.7 2287.7,1541.6 2289.1,1537.2 2290.5,1531.6 2291.9,1526.6 2293.3,1523.8 2294.7,1522.3 2296.1,1520.4 2297.5,1517.0 2298.9,1513.7 2300.3,1511.8 2301.7,1511.0 2303.1,1510.5 2304.5,1512.5 2305.9,1517.4 2307.3,1521.6 2308.7,1523.3 2310.1,1525.6 2311.5,1530.5 2312.9,1537.2 2314.3,1544.1 2315.7,1550.4 2317.1,1556.6 2318.5,1562.9 2319.9,1568.5 2321.3,1573.0 2322.7,1576.7 2324.1,1581.4 2325.5,1589.1 2326.9,1598.1 2328.3,1605.6 2329.7,1611.5 2331.1,1617.4 2332.5,1623.6 2333.9,1629.3 2335.3,1632.3 2336.7,1632.2 2338.1,1632.0 2339.5,1634.6 2340.9,1639.8 2342.3,1645.5 2343.7,1648.4 2345.1,1648.9 2346.5,1650.2 2347.9,1653.5 2349.3,1655.9 2350.7,1657.0 2352.1,1659.3 2353.5,1662.6 2354.9,1664.7 2356.3,1664.9 2357.7,1664.4 2359.1,1665.4 2360.5,1669.1 2361.9,1673.4 2363.3,1674.8 2364.7,1672.7 2366.1,1670.1 2367.5,1669.8 2368.9,1672.0 2370.3,1674.8 2371.7,1676.1 2373.1,1676.0 2374.5,1676.2 2375.9,1678.1 2377.3,1681.7 2378.7,1685.0 2380.1,1685.4 2381.5,1682.7 2382.9,1680.0 2384.3,1678.8 2385.7,1678.5 2387.1,1678.6 2388.5,1679.2 2389.9,1680.4 2391.3,1681.9 2392.7,1682.7 2394.1,1682.3 2395.5,1680.8 2396.9,1679.3 2398.3,1678.7 2399.7,1679.4 2401.1,1680.4 2402.5,1680.8 2403.9,1680.0 2405.3,1678.6 2406.7,1677.6 2408.1,1677.0 2409.5,1676.6 2410.9,1676.2 2412.3,1676.5 2413.7,1678.3 2415.1,1679.9 2416.5,1679.9 2417.9,1678.8 2419.3,1677.7 2420.7,1677.2 2422.1,1677.4 2423.5,1677.7 2424.9,1677.7 2426.3,1677.9 2427.7,1678.8 2429.1,1679.4 2430.5,1679.1 2431.9,1678.5 2433.3,1677.6 2434.7,1677.3 2436.1,1678.3 2437.5,1679.6 2438.9,1679.8 2440.3,1678.8 2441.7,1677.7 2443.1,1678.0 2444.5,1678.9 2445.9,1678.6 2447.3,1677.0 2448.7,1676.4 2450.1,1678.3 2451.5,1680.5 2452.9,1680.0 2454.3,1677.2 2455.7,1675.0 2457.1,1673.9 2458.5,1671.9 2459.9,1669.8 2461.3,1668.9 2462.7,1668.6 2464.1,1669.4 2465.5,1672.1 2466.9,1674.8 2468.3,1676.5 2469.7,1678.3 2471.1,1680.0 2472.5,1679.1 2473.9,1675.4 2475.3,1671.4 2476.7,1669.3 2478.1,1670.1 2479.5,1672.3 2480.9,1673.9 2482.3,1674.2 2483.7,1673.4 2485.1,1672.4 2486.5,1672.7 2487.9,1674.3 2489.3,1675.5 2490.7,1675.3 2492.1,1673.7 2493.5,1671.5 2494.9,1669.2 2496.3,1667.1 2497.7,1666.9 2499.1,1668.6 2500.5,1669.5 2501.9,1668.2 2503.3,1666.2 2504.7,1665.3 2506.1,1664.5 2507.5,1663.3 2508.9,1663.6 2510.3,1666.5 2511.7,1669.7 2513.1,1670.3 2514.5,1669.3 2515.9,1668.1 2517.3,1666.1 2518.7,1664.6 2520.1,1666.3 2521.5,1670.2 2522.9,1673.7 2524.3,1675.2 2525.7,1674.4 2527.1,1672.5 2528.5,1670.8 2529.9,1669.4 2531.3,1668.6 2532.7,1669.5 2534.1,1671.6 2535.5,1672.1 2536.9,1670.2 2538.3,1668.7 2539.7,1669.1 2541.1,1670.0 2542.5,1669.7 2543.9,1668.0 2545.3,1665.6 2546.7,1664.0" fill="none" stroke="#60636f" stroke-width="7.6" stroke-linejoin="round"/>
<polyline clip-path="url(#cf)" points="1657.7,1921.9 1659.1,1924.9 1660.5,1924.2 1661.9,1912.2 1663.3,1913.9 1664.7,1919.8 1666.1,1917.9 1667.5,1915.3 1668.9,1924.5 1670.3,1921.4 1671.7,1921.8 1673.1,1917.8 1674.5,1922.4 1675.9,1916.1 1677.3,1921.2 1678.7,1912.2 1680.1,1909.9 1681.5,1911.2 1682.9,1905.2 1684.3,1909.8 1685.7,1908.8 1687.1,1905.7 1688.5,1911.6 1689.9,1911.4 1691.3,1916.1 1692.7,1907.3 1694.1,1905.8 1695.5,1904.2 1696.9,1918.6 1698.3,1917.3 1699.7,1908.0 1701.1,1907.6 1702.5,1913.3 1703.9,1908.1 1705.3,1906.0 1706.7,1910.6 1708.1,1912.0 1709.5,1906.7 1710.9,1902.5 1712.3,1902.5 1713.7,1910.2 1715.1,1903.4 1716.5,1905.4 1717.9,1907.6 1719.3,1895.1 1720.7,1905.1 1722.1,1908.2 1723.5,1903.1 1724.9,1906.2 1726.3,1904.3 1727.7,1911.3 1729.1,1904.0 1730.5,1900.3 1731.9,1902.3 1733.3,1903.1 1734.7,1906.8 1736.1,1897.9 1737.5,1900.5 1738.9,1902.3 1740.3,1911.7 1741.7,1903.2 1743.1,1897.4 1744.5,1899.2 1745.9,1903.3 1747.3,1894.5 1748.7,1896.0 1750.1,1903.8 1751.5,1899.7 1752.9,1897.4 1754.3,1890.6 1755.7,1899.1 1757.1,1897.3 1758.5,1893.6 1759.9,1896.9 1761.3,1888.0 1762.7,1898.0 1764.1,1892.4 1765.5,1893.6 1766.9,1895.1 1768.3,1891.4 1769.7,1884.8 1771.1,1891.6 1772.5,1886.4 1773.9,1886.8 1775.3,1884.0 1776.7,1884.0 1778.1,1876.7 1779.5,1896.8 1780.9,1890.3 1782.3,1893.8 1783.7,1896.2 1785.1,1887.3 1786.5,1879.5 1787.9,1882.8 1789.3,1880.4 1790.7,1880.9 1792.1,1880.5 1793.5,1869.3 1794.9,1875.9 1796.3,1867.3 1797.7,1876.0 1799.1,1877.4 1800.5,1879.7 1801.9,1881.5 1803.3,1877.4 1804.7,1875.1 1806.1,1870.8 1807.5,1877.6 1808.9,1884.6 1810.3,1885.0 1811.7,1882.2 1813.1,1878.4 1814.5,1870.8 1815.9,1878.1 1817.3,1871.4 1818.7,1870.7 1820.1,1869.9 1821.5,1872.3 1822.9,1871.1 1824.3,1872.2 1825.7,1866.3 1827.1,1866.6 1828.5,1874.3 1829.9,1862.8 1831.3,1861.9 1832.7,1865.5 1834.1,1866.5 1835.5,1859.5 1836.9,1863.6 1838.3,1868.8 1839.7,1866.9 1841.1,1866.4 1842.5,1871.3 1843.9,1862.5 1845.3,1867.4 1846.7,1865.6 1848.1,1871.5 1849.5,1854.9 1850.9,1858.4 1852.3,1858.8 1853.7,1863.8 1855.1,1862.7 1856.5,1863.9 1857.9,1850.2 1859.3,1858.7 1860.7,1855.6 1862.1,1856.2 1863.5,1862.1 1864.9,1855.5 1866.3,1848.6 1867.7,1853.0 1869.1,1847.0 1870.5,1850.0 1871.9,1853.7 1873.3,1852.4 1874.7,1855.8 1876.1,1847.8 1877.5,1843.7 1878.9,1847.8 1880.3,1846.1 1881.7,1843.9 1883.1,1851.0 1884.5,1846.2 1885.9,1842.7 1887.3,1846.2 1888.7,1841.4 1890.1,1843.4 1891.5,1843.7 1892.9,1846.4 1894.3,1843.1 1895.7,1847.3 1897.1,1842.6 1898.5,1841.1 1899.9,1839.1 1901.3,1830.2 1902.7,1836.0 1904.1,1837.0 1905.5,1839.0 1906.9,1831.6 1908.3,1842.1 1909.7,1834.7 1911.1,1829.0 1912.5,1826.9 1913.9,1832.1 1915.3,1832.6 1916.7,1830.9 1918.1,1834.9 1919.5,1831.0 1920.9,1832.7 1922.3,1824.5 1923.7,1826.6 1925.1,1832.2 1926.5,1839.6 1927.9,1824.8 1929.3,1826.7 1930.7,1825.3 1932.1,1831.3 1933.5,1822.0 1934.9,1822.9 1936.3,1823.0 1937.7,1818.0 1939.1,1818.3 1940.5,1821.5 1941.9,1816.4 1943.3,1818.6 1944.7,1818.8 1946.1,1815.4 1947.5,1810.9 1948.9,1804.3 1950.3,1801.7 1951.7,1814.5 1953.1,1811.4 1954.5,1805.4 1955.9,1800.7 1957.3,1808.3 1958.7,1804.8 1960.1,1801.9 1961.5,1801.2 1962.9,1807.5 1964.3,1800.7 1965.7,1810.9 1967.1,1796.2 1968.5,1802.2 1969.9,1797.5 1971.3,1799.9 1972.7,1809.0 1974.1,1799.4 1975.5,1792.0 1976.9,1792.5 1978.3,1794.3 1979.7,1798.4 1981.1,1792.4 1982.5,1788.7 1983.9,1795.7 1985.3,1796.1 1986.7,1794.2 1988.1,1797.0 1989.5,1791.1 1990.9,1790.4 1992.3,1780.8 1993.7,1788.9 1995.1,1794.9 1996.5,1789.4 1997.9,1786.5 1999.3,1785.5 2000.7,1790.5 2002.1,1775.6 2003.5,1773.8 2004.9,1767.9 2006.3,1770.2 2007.7,1765.6 2009.1,1772.5 2010.5,1773.5 2011.9,1774.2 2013.3,1770.7 2014.7,1766.1 2016.1,1771.6 2017.5,1774.9 2018.9,1765.9 2020.3,1772.4 2021.7,1770.6 2023.1,1763.2 2024.5,1766.5 2025.9,1758.5 2027.3,1764.7 2028.7,1768.0 2030.1,1766.0 2031.5,1755.4 2032.9,1756.8 2034.3,1752.5 2035.7,1751.6 2037.1,1758.2 2038.5,1748.4 2039.9,1757.5 2041.3,1750.4 2042.7,1752.6 2044.1,1743.4 2045.5,1736.5 2046.9,1739.6 2048.3,1741.6 2049.7,1737.4 2051.1,1737.4 2052.5,1732.9 2053.9,1727.4 2055.3,1740.2 2056.7,1744.2 2058.1,1735.2 2059.5,1732.6 2060.9,1732.8 2062.3,1723.4 2063.7,1722.1 2065.1,1726.5 2066.5,1734.0 2067.9,1722.0 2069.3,1729.7 2070.7,1719.3 2072.1,1714.6 2073.5,1721.9 2074.9,1715.7 2076.3,1711.3 2077.7,1715.1 2079.1,1718.0 2080.5,1715.3 2081.9,1706.1 2083.3,1709.2 2084.7,1711.0 2086.1,1704.0 2087.5,1704.3 2088.9,1698.8 2090.3,1694.6 2091.7,1694.4 2093.1,1696.2 2094.5,1694.0 2095.9,1689.0 2097.3,1687.0 2098.7,1690.1 2100.1,1683.6 2101.5,1684.7 2102.9,1685.6 2104.3,1682.8 2105.7,1688.8 2107.1,1675.8 2108.5,1680.3 2109.9,1671.8 2111.3,1676.5 2112.7,1673.0 2114.1,1656.0 2115.5,1658.5 2116.9,1665.1 2118.3,1664.5 2119.7,1660.2 2121.1,1646.7 2122.5,1650.1 2123.9,1648.1 2125.3,1642.8 2126.7,1646.3 2128.1,1633.3 2129.5,1645.0 2130.9,1632.3 2132.3,1645.7 2133.7,1639.0 2135.1,1634.3 2136.5,1636.3 2137.9,1626.1 2139.3,1620.9 2140.7,1616.1 2142.1,1623.3 2143.5,1626.2 2144.9,1625.8 2146.3,1616.3 2147.7,1617.6 2149.1,1612.5 2150.5,1612.0 2151.9,1614.2 2153.3,1615.2 2154.7,1608.2 2156.1,1607.1 2157.5,1606.4 2158.9,1607.1 2160.3,1603.7 2161.7,1612.6 2163.1,1607.0 2164.5,1607.7 2165.9,1598.0 2167.3,1585.5 2168.7,1596.9 2170.1,1592.8 2171.5,1608.4 2172.9,1601.5 2174.3,1608.7 2175.7,1604.1 2177.1,1596.3 2178.5,1601.4 2179.9,1606.4 2181.3,1610.0 2182.7,1612.8 2184.1,1610.2 2185.5,1601.5 2186.9,1607.2 2188.3,1600.5 2189.7,1612.3 2191.1,1609.1 2192.5,1611.2 2193.9,1617.9 2195.3,1623.4 2196.7,1620.0 2198.1,1619.5 2199.5,1621.8 2200.9,1617.8 2202.3,1622.1 2203.7,1616.9 2205.1,1620.3 2206.5,1627.0 2207.9,1621.0 2209.3,1631.2 2210.7,1627.1 2212.1,1633.9 2213.5,1635.8 2214.9,1639.1 2216.3,1633.4 2217.7,1635.6 2219.1,1633.4 2220.5,1640.8 2221.9,1637.5 2223.3,1640.1 2224.7,1634.5 2226.1,1641.8 2227.5,1628.1 2228.9,1634.8 2230.3,1639.5 2231.7,1636.4 2233.1,1636.2 2234.5,1637.3 2235.9,1629.9 2237.3,1634.0 2238.7,1644.3 2240.1,1641.3 2241.5,1632.4 2242.9,1631.0 2244.3,1629.0 2245.7,1630.6 2247.1,1620.8 2248.5,1620.9 2249.9,1627.3 2251.3,1626.5 2252.7,1620.3 2254.1,1614.6 2255.5,1609.2 2256.9,1609.8 2258.3,1601.9 2259.7,1611.9 2261.1,1603.5 2262.5,1604.7 2263.9,1606.8 2265.3,1600.8 2266.7,1589.3 2268.1,1596.3 2269.5,1595.0 2270.9,1583.3 2272.3,1578.4 2273.7,1578.5 2275.1,1570.2 2276.5,1580.6 2277.9,1562.5 2279.3,1563.7 2280.7,1561.7 2282.1,1556.3 2283.5,1552.8 2284.9,1549.0 2286.3,1543.8 2287.7,1546.1 2289.1,1528.6 2290.5,1531.6 2291.9,1523.8 2293.3,1524.3 2294.7,1510.4 2296.1,1516.7 2297.5,1514.5 2298.9,1516.9 2300.3,1521.0 2301.7,1508.3 2303.1,1518.7 2304.5,1500.5 2305.9,1511.5 2307.3,1522.8 2308.7,1533.3 2310.1,1528.7 2311.5,1531.4 2312.9,1536.4 2314.3,1541.9 2315.7,1549.5 2317.1,1554.4 2318.5,1565.8 2319.9,1566.9 2321.3,1571.2 2322.7,1571.9 2324.1,1581.2 2325.5,1585.5 2326.9,1597.4 2328.3,1609.8 2329.7,1613.0 2331.1,1619.4 2332.5,1625.0 2333.9,1629.5 2335.3,1631.8 2336.7,1631.0 2338.1,1635.0 2339.5,1629.2 2340.9,1645.2 2342.3,1645.6 2343.7,1645.4 2345.1,1646.9 2346.5,1647.5 2347.9,1641.5 2349.3,1653.0 2350.7,1661.6 2352.1,1656.2 2353.5,1653.5 2354.9,1661.8 2356.3,1656.8 2357.7,1664.3 2359.1,1669.7 2360.5,1671.7 2361.9,1668.1 2363.3,1671.7 2364.7,1679.8 2366.1,1671.4 2367.5,1669.8 2368.9,1676.3 2370.3,1684.6 2371.7,1681.3 2373.1,1676.6 2374.5,1677.6 2375.9,1680.6 2377.3,1679.3 2378.7,1680.7 2380.1,1685.6 2381.5,1678.9 2382.9,1679.7 2384.3,1679.2 2385.7,1687.8 2387.1,1675.2 2388.5,1678.7 2389.9,1679.7 2391.3,1683.6 2392.7,1686.9 2394.1,1680.3 2395.5,1677.6 2396.9,1672.7 2398.3,1675.0 2399.7,1681.5 2401.1,1680.6 2402.5,1676.8 2403.9,1678.5 2405.3,1678.7 2406.7,1686.5 2408.1,1674.7 2409.5,1675.6 2410.9,1669.0 2412.3,1671.9 2413.7,1684.8 2415.1,1671.1 2416.5,1678.5 2417.9,1679.7 2419.3,1676.2 2420.7,1673.9 2422.1,1677.1 2423.5,1677.7 2424.9,1677.4 2426.3,1670.4 2427.7,1678.2 2429.1,1676.0 2430.5,1677.0 2431.9,1679.4 2433.3,1680.2 2434.7,1680.8 2436.1,1676.3 2437.5,1683.3 2438.9,1684.5 2440.3,1683.3 2441.7,1672.7 2443.1,1677.4 2444.5,1678.2 2445.9,1681.9 2447.3,1671.5 2448.7,1677.2 2450.1,1676.2 2451.5,1679.0 2452.9,1673.0 2454.3,1672.8 2455.7,1674.9 2457.1,1677.5 2458.5,1675.9 2459.9,1669.4 2461.3,1668.2 2462.7,1665.3 2464.1,1671.1 2465.5,1671.1 2466.9,1677.3 2468.3,1678.3 2469.7,1678.1 2471.1,1674.0 2472.5,1675.7 2473.9,1669.6 2475.3,1666.6 2476.7,1674.6 2478.1,1671.0 2479.5,1666.2 2480.9,1676.5 2482.3,1679.2 2483.7,1672.0 2485.1,1669.7 2486.5,1671.4 2487.9,1675.4 2489.3,1678.1 2490.7,1680.1 2492.1,1678.6 2493.5,1676.3 2494.9,1674.6 2496.3,1669.7 2497.7,1660.8 2499.1,1668.1 2500.5,1670.8 2501.9,1666.7 2503.3,1669.9 2504.7,1663.9 2506.1,1660.8 2507.5,1669.1 2508.9,1666.2 2510.3,1667.4 2511.7,1673.4 2513.1,1674.5 2514.5,1670.6 2515.9,1658.2 2517.3,1663.4 2518.7,1662.8 2520.1,1662.4 2521.5,1671.0 2522.9,1678.4 2524.3,1673.2 2525.7,1669.9 2527.1,1680.6 2528.5,1669.0 2529.9,1664.5 2531.3,1669.6 2532.7,1675.9 2534.1,1668.8 2535.5,1675.2 2536.9,1668.3 2538.3,1665.1 2539.7,1669.8 2541.1,1673.0 2542.5,1667.2 2543.9,1669.3 2545.3,1665.2 2546.7,1675.3" fill="none" stroke="#60636f" stroke-width="3.0" stroke-linejoin="miter"/>
<polyline clip-path="url(#cf)" points="1657.7,1823.0 1659.1,1823.8 1660.5,1825.3 1661.9,1826.0 1663.3,1825.4 1664.7,1824.4 1666.1,1822.7 1667.5,1820.7 1668.9,1819.8 1670.3,1820.5 1671.7,1821.5 1673.1,1820.9 1674.5,1818.2 1675.9,1815.8 1677.3,1815.3 1678.7,1816.0 1680.1,1816.5 1681.5,1816.1 1682.9,1816.1 1684.3,1817.0 1685.7,1817.1 1687.1,1816.3 1688.5,1815.2 1689.9,1813.6 1691.3,1811.9 1692.7,1810.4 1694.1,1809.5 1695.5,1810.1 1696.9,1812.7 1698.3,1815.5 1699.7,1816.1 1701.1,1814.9 1702.5,1813.6 1703.9,1812.4 1705.3,1811.9 1706.7,1812.5 1708.1,1813.5 1709.5,1812.9 1710.9,1809.9 1712.3,1807.0 1713.7,1805.5 1715.1,1803.1 1716.5,1799.8 1717.9,1799.3 1719.3,1802.8 1720.7,1806.9 1722.1,1809.0 1723.5,1809.5 1724.9,1808.5 1726.3,1806.2 1727.7,1803.3 1729.1,1801.2 1730.5,1800.9 1731.9,1801.3 1733.3,1800.0 1734.7,1798.0 1736.1,1797.1 1737.5,1796.7 1738.9,1796.2 1740.3,1795.3 1741.7,1793.4 1743.1,1792.1 1744.5,1793.2 1745.9,1794.8 1747.3,1795.1 1748.7,1795.5 1750.1,1796.0 1751.5,1794.6 1752.9,1792.5 1754.3,1792.0 1755.7,1793.0 1757.1,1792.7 1758.5,1791.2 1759.9,1791.3 1761.3,1793.5 1762.7,1794.5 1764.1,1793.1 1765.5,1791.2 1766.9,1790.7 1768.3,1790.5 1769.7,1789.2 1771.1,1787.2 1772.5,1785.9 1773.9,1785.2 1775.3,1784.8 1776.7,1785.2 1778.1,1785.5 1779.5,1784.8 1780.9,1783.5 1782.3,1782.7 1783.7,1783.6 1785.1,1785.3 1786.5,1785.7 1787.9,1783.6 1789.3,1780.2 1790.7,1779.2 1792.1,1781.9 1793.5,1785.8 1794.9,1787.2 1796.3,1785.1 1797.7,1781.7 1799.1,1779.2 1800.5,1778.1 1801.9,1779.7 1803.3,1782.9 1804.7,1784.2 1806.1,1783.9 1807.5,1783.9 1808.9,1783.8 1810.3,1782.0 1811.7,1778.4 1813.1,1775.1 1814.5,1775.1 1815.9,1778.3 1817.3,1780.3 1818.7,1779.0 1820.1,1776.5 1821.5,1774.9 1822.9,1775.3 1824.3,1776.7 1825.7,1777.2 1827.1,1776.6 1828.5,1776.2 1829.9,1775.9 1831.3,1774.7 1832.7,1772.6 1834.1,1771.6 1835.5,1772.9 1836.9,1773.7 1838.3,1772.2 1839.7,1771.3 1841.1,1771.8 1842.5,1771.3 1843.9,1768.5 1845.3,1765.3 1846.7,1763.3 1848.1,1762.5 1849.5,1763.1 1850.9,1765.1 1852.3,1768.1 1853.7,1771.9 1855.1,1773.9 1856.5,1771.5 1857.9,1766.2 1859.3,1761.0 1860.7,1757.7 1862.1,1756.1 1863.5,1755.4 1864.9,1755.1 1866.3,1755.1 1867.7,1754.4 1869.1,1752.6 1870.5,1751.4 1871.9,1752.7 1873.3,1755.7 1874.7,1758.5 1876.1,1759.8 1877.5,1758.9 1878.9,1756.6 1880.3,1754.8 1881.7,1755.3 1883.1,1756.9 1884.5,1755.8 1885.9,1751.5 1887.3,1747.3 1888.7,1744.5 1890.1,1743.1 1891.5,1743.8 1892.9,1745.5 1894.3,1745.9 1895.7,1745.0 1897.1,1743.7 1898.5,1741.9 1899.9,1740.2 1901.3,1738.8 1902.7,1738.0 1904.1,1738.2 1905.5,1739.3 1906.9,1740.4 1908.3,1740.3 1909.7,1738.5 1911.1,1735.3 1912.5,1731.6 1913.9,1728.6 1915.3,1727.6 1916.7,1728.6 1918.1,1729.0 1919.5,1728.4 1920.9,1727.6 1922.3,1726.8 1923.7,1726.3 1925.1,1725.6 1926.5,1724.1 1927.9,1723.2 1929.3,1723.5 1930.7,1722.0 1932.1,1717.7 1933.5,1712.9 1934.9,1710.3 1936.3,1710.8 1937.7,1712.1 1939.1,1711.7 1940.5,1710.8 1941.9,1711.6 1943.3,1712.5 1944.7,1711.7 1946.1,1710.9 1947.5,1710.8 1948.9,1709.2 1950.3,1705.3 1951.7,1700.5 1953.1,1696.9 1954.5,1695.9 1955.9,1696.9 1957.3,1698.5 1958.7,1699.6 1960.1,1699.3 1961.5,1697.0 1962.9,1692.9 1964.3,1687.9 1965.7,1684.4 1967.1,1683.5 1968.5,1683.5 1969.9,1683.0 1971.3,1681.6 1972.7,1679.7 1974.1,1678.9 1975.5,1679.3 1976.9,1679.2 1978.3,1678.3 1979.7,1676.7 1981.1,1674.6 1982.5,1673.3 1983.9,1673.9 1985.3,1674.5 1986.7,1673.9 1988.1,1673.5 1989.5,1672.9 1990.9,1670.4 1992.3,1667.4 1993.7,1664.9 1995.1,1661.6 1996.5,1658.0 1997.9,1655.7 1999.3,1654.5 2000.7,1653.1 2002.1,1651.5 2003.5,1649.1 2004.9,1645.8 2006.3,1644.0 2007.7,1644.4 2009.1,1644.6 2010.5,1642.6 2011.9,1640.2 2013.3,1639.5 2014.7,1638.9 2016.1,1636.2 2017.5,1631.8 2018.9,1627.7 2020.3,1624.2 2021.7,1621.9 2023.1,1621.8 2024.5,1622.2 2025.9,1621.1 2027.3,1620.3 2028.7,1620.9 2030.1,1620.6 2031.5,1617.9 2032.9,1614.2 2034.3,1612.0 2035.7,1610.1 2037.1,1607.6 2038.5,1606.3 2039.9,1606.1 2041.3,1602.9 2042.7,1595.8 2044.1,1589.4 2045.5,1587.4 2046.9,1588.7 2048.3,1590.6 2049.7,1590.6 2051.1,1588.3 2052.5,1585.3 2053.9,1582.5 2055.3,1580.5 2056.7,1580.0 2058.1,1581.3 2059.5,1581.8 2060.9,1577.8 2062.3,1571.0 2063.7,1565.2 2065.1,1561.2 2066.5,1558.4 2067.9,1557.3 2069.3,1557.4 2070.7,1556.5 2072.1,1553.0 2073.5,1548.1 2074.9,1544.2 2076.3,1542.6 2077.7,1542.7 2079.1,1542.9 2080.5,1541.9 2081.9,1539.8 2083.3,1537.1 2084.7,1532.8 2086.1,1526.5 2087.5,1521.0 2088.9,1519.7 2090.3,1521.3 2091.7,1521.4 2093.1,1518.3 2094.5,1513.2 2095.9,1507.8 2097.3,1503.5 2098.7,1501.1 2100.1,1499.5 2101.5,1496.5 2102.9,1492.4 2104.3,1488.9 2105.7,1486.2 2107.1,1483.2 2108.5,1480.7 2109.9,1478.7 2111.3,1476.0 2112.7,1473.1 2114.1,1470.5 2115.5,1466.5 2116.9,1460.8 2118.3,1454.3 2119.7,1447.6 2121.1,1442.1 2122.5,1438.8 2123.9,1436.9 2125.3,1434.4 2126.7,1431.2 2128.1,1427.4 2129.5,1424.1 2130.9,1422.6 2132.3,1422.2 2133.7,1421.8 2135.1,1419.7 2136.5,1415.4 2137.9,1410.1 2139.3,1405.3 2140.7,1401.4 2142.1,1397.5 2143.5,1393.4 2144.9,1390.3 2146.3,1387.9 2147.7,1385.2 2149.1,1381.6 2150.5,1377.3 2151.9,1373.6 2153.3,1370.2 2154.7,1367.1 2156.1,1365.3 2157.5,1363.2 2158.9,1360.3 2160.3,1359.2 2161.7,1360.0 2163.1,1360.7 2164.5,1360.6 2165.9,1360.6 2167.3,1362.6 2168.7,1364.7 2170.1,1364.2 2171.5,1362.4 2172.9,1361.4 2174.3,1361.8 2175.7,1363.0 2177.1,1364.6 2178.5,1367.0 2179.9,1369.2 2181.3,1370.4 2182.7,1371.6 2184.1,1373.6 2185.5,1376.6 2186.9,1379.7 2188.3,1381.1 2189.7,1381.3 2191.1,1382.6 2192.5,1384.9 2193.9,1387.8 2195.3,1391.1 2196.7,1394.4 2198.1,1397.4 2199.5,1399.9 2200.9,1402.1 2202.3,1403.5 2203.7,1403.7 2205.1,1402.9 2206.5,1402.7 2207.9,1405.0 2209.3,1410.0 2210.7,1415.4 2212.1,1418.5 2213.5,1418.0 2214.9,1415.4 2216.3,1413.6 2217.7,1413.8 2219.1,1415.2 2220.5,1416.1 2221.9,1414.6 2223.3,1412.1 2224.7,1411.9 2226.1,1413.3 2227.5,1413.8 2228.9,1413.3 2230.3,1412.4 2231.7,1410.3 2233.1,1407.6 2234.5,1405.4 2235.9,1404.6 2237.3,1404.5 2238.7,1403.5 2240.1,1402.2 2241.5,1401.9 2242.9,1401.4 2244.3,1398.9 2245.7,1394.3 2247.1,1389.7 2248.5,1386.7 2249.9,1385.3 2251.3,1385.1 2252.7,1384.8 2254.1,1383.9 2255.5,1381.7 2256.9,1377.2 2258.3,1371.1 2259.7,1365.2 2261.1,1360.7 2262.5,1356.7 2263.9,1351.6 2265.3,1346.3 2266.7,1342.7 2268.1,1339.2 2269.5,1333.9 2270.9,1326.3 2272.3,1318.9 2273.7,1314.6 2275.1,1311.7 2276.5,1306.4 2277.9,1299.5 2279.3,1293.1 2280.7,1286.0 2282.1,1277.9 2283.5,1271.8 2284.9,1269.6 2286.3,1269.1 2287.7,1267.3 2289.1,1264.1 2290.5,1260.0 2291.9,1254.5 2293.3,1248.8 2294.7,1244.8 2296.1,1241.8 2297.5,1239.9 2298.9,1240.0 2300.3,1241.3 2301.7,1243.0 2303.1,1246.4 2304.5,1252.6 2305.9,1258.4 2307.3,1261.5 2308.7,1265.4 2310.1,1273.4 2311.5,1283.3 2312.9,1292.2 2314.3,1300.9 2315.7,1309.8 2317.1,1318.0 2318.5,1326.6 2319.9,1338.0 2321.3,1351.4 2322.7,1364.8 2324.1,1376.6 2325.5,1387.3 2326.9,1397.4 2328.3,1406.8 2329.7,1414.4 2331.1,1421.2 2332.5,1429.7 2333.9,1439.6 2335.3,1448.7 2336.7,1457.7 2338.1,1466.8 2339.5,1475.4 2340.9,1483.4 2342.3,1489.9 2343.7,1496.2 2345.1,1504.6 2346.5,1512.2 2347.9,1516.5 2349.3,1519.9 2350.7,1524.3 2352.1,1527.4 2353.5,1528.6 2354.9,1530.7 2356.3,1534.6 2357.7,1538.8 2359.1,1542.2 2360.5,1544.4 2361.9,1545.7 2363.3,1546.7 2364.7,1548.1 2366.1,1550.2 2367.5,1552.9 2368.9,1555.7 2370.3,1559.1 2371.7,1562.2 2373.1,1563.4 2374.5,1564.4 2375.9,1566.4 2377.3,1568.7 2378.7,1570.7 2380.1,1572.5 2381.5,1573.7 2382.9,1574.5 2384.3,1575.9 2385.7,1578.1 2387.1,1578.8 2388.5,1577.9 2389.9,1578.3 2391.3,1579.4 2392.7,1580.3 2394.1,1583.3 2395.5,1588.1 2396.9,1592.0 2398.3,1593.9 2399.7,1594.1 2401.1,1593.8 2402.5,1594.9 2403.9,1596.8 2405.3,1598.1 2406.7,1598.3 2408.1,1598.5 2409.5,1600.0 2410.9,1601.2 2412.3,1600.2 2413.7,1598.1 2415.1,1597.6 2416.5,1598.3 2417.9,1598.7 2419.3,1598.8 2420.7,1599.9 2422.1,1602.7 2423.5,1606.4 2424.9,1609.5 2426.3,1612.0 2427.7,1614.6 2429.1,1617.2 2430.5,1618.8 2431.9,1617.1 2433.3,1612.2 2434.7,1606.9 2436.1,1604.9 2437.5,1608.0 2438.9,1612.9 2440.3,1615.7 2441.7,1616.2 2443.1,1616.2 2444.5,1614.9 2445.9,1611.8 2447.3,1609.4 2448.7,1610.1 2450.1,1612.5 2451.5,1613.8 2452.9,1613.5 2454.3,1613.8 2455.7,1615.7 2457.1,1617.8 2458.5,1618.9 2459.9,1619.0 2461.3,1617.1 2462.7,1613.2 2464.1,1610.2 2465.5,1611.2 2466.9,1614.6 2468.3,1616.1 2469.7,1614.9 2471.1,1613.4 2472.5,1612.7 2473.9,1612.4 2475.3,1612.6 2476.7,1614.4 2478.1,1615.8 2479.5,1614.0 2480.9,1610.1 2482.3,1608.0 2483.7,1609.4 2485.1,1612.2 2486.5,1613.3 2487.9,1612.3 2489.3,1610.7 2490.7,1610.0 2492.1,1611.3 2493.5,1614.7 2494.9,1617.6 2496.3,1617.7 2497.7,1615.6 2499.1,1614.0 2500.5,1613.2 2501.9,1611.3 2503.3,1609.5 2504.7,1610.1 2506.1,1612.8 2507.5,1615.3 2508.9,1617.4 2510.3,1619.0 2511.7,1619.2 2513.1,1617.9 2514.5,1616.4 2515.9,1616.3 2517.3,1617.4 2518.7,1618.0 2520.1,1617.1 2521.5,1615.0 2522.9,1612.2 2524.3,1610.5 2525.7,1612.0 2527.1,1615.7 2528.5,1618.9 2529.9,1620.2 2531.3,1620.3 2532.7,1620.5 2534.1,1620.4 2535.5,1618.4 2536.9,1615.4 2538.3,1613.5 2539.7,1612.9 2541.1,1613.4 2542.5,1615.2 2543.9,1617.2 2545.3,1619.5 2546.7,1622.9" fill="none" stroke="#5cc4d1" stroke-width="7.6" stroke-linejoin="round"/>
<polyline clip-path="url(#cf)" points="1657.7,1821.6 1659.1,1809.4 1660.5,1824.2 1661.9,1822.6 1663.3,1827.5 1664.7,1824.5 1666.1,1830.7 1667.5,1823.6 1668.9,1822.4 1670.3,1819.4 1671.7,1814.8 1673.1,1820.5 1674.5,1814.1 1675.9,1820.4 1677.3,1815.2 1678.7,1824.0 1680.1,1820.0 1681.5,1820.1 1682.9,1817.2 1684.3,1820.7 1685.7,1820.2 1687.1,1820.7 1688.5,1811.8 1689.9,1827.3 1691.3,1821.0 1692.7,1805.5 1694.1,1808.2 1695.5,1806.7 1696.9,1805.8 1698.3,1821.2 1699.7,1804.6 1701.1,1816.4 1702.5,1822.5 1703.9,1824.4 1705.3,1807.6 1706.7,1817.5 1708.1,1816.5 1709.5,1802.9 1710.9,1812.2 1712.3,1806.9 1713.7,1813.2 1715.1,1806.1 1716.5,1801.5 1717.9,1805.3 1719.3,1807.2 1720.7,1809.1 1722.1,1810.6 1723.5,1817.9 1724.9,1811.0 1726.3,1799.0 1727.7,1799.2 1729.1,1799.6 1730.5,1795.9 1731.9,1801.8 1733.3,1801.2 1734.7,1788.2 1736.1,1797.2 1737.5,1799.8 1738.9,1797.0 1740.3,1790.8 1741.7,1799.5 1743.1,1788.7 1744.5,1787.3 1745.9,1789.6 1747.3,1795.0 1748.7,1800.2 1750.1,1801.6 1751.5,1795.6 1752.9,1786.7 1754.3,1788.9 1755.7,1788.7 1757.1,1791.8 1758.5,1782.7 1759.9,1791.8 1761.3,1796.6 1762.7,1793.8 1764.1,1795.3 1765.5,1786.7 1766.9,1783.7 1768.3,1787.5 1769.7,1794.7 1771.1,1792.2 1772.5,1783.8 1773.9,1790.9 1775.3,1783.2 1776.7,1792.5 1778.1,1787.8 1779.5,1782.7 1780.9,1787.4 1782.3,1779.0 1783.7,1779.1 1785.1,1778.3 1786.5,1787.0 1787.9,1783.4 1789.3,1779.9 1790.7,1777.2 1792.1,1788.8 1793.5,1783.8 1794.9,1783.8 1796.3,1791.1 1797.7,1788.5 1799.1,1780.9 1800.5,1769.7 1801.9,1776.8 1803.3,1785.8 1804.7,1784.2 1806.1,1791.3 1807.5,1777.4 1808.9,1787.0 1810.3,1779.0 1811.7,1784.8 1813.1,1774.7 1814.5,1780.0 1815.9,1775.2 1817.3,1773.5 1818.7,1773.7 1820.1,1773.6 1821.5,1770.0 1822.9,1781.0 1824.3,1783.2 1825.7,1778.6 1827.1,1771.7 1828.5,1775.6 1829.9,1772.6 1831.3,1781.7 1832.7,1774.1 1834.1,1773.9 1835.5,1771.0 1836.9,1764.0 1838.3,1768.5 1839.7,1765.9 1841.1,1773.6 1842.5,1771.8 1843.9,1764.7 1845.3,1763.4 1846.7,1770.8 1848.1,1757.9 1849.5,1758.7 1850.9,1764.0 1852.3,1764.7 1853.7,1769.8 1855.1,1776.4 1856.5,1779.8 1857.9,1757.7 1859.3,1761.0 1860.7,1757.9 1862.1,1755.7 1863.5,1747.8 1864.9,1753.5 1866.3,1759.9 1867.7,1752.1 1869.1,1752.0 1870.5,1751.4 1871.9,1753.2 1873.3,1754.9 1874.7,1763.3 1876.1,1759.7 1877.5,1759.7 1878.9,1756.3 1880.3,1750.0 1881.7,1751.3 1883.1,1752.2 1884.5,1756.7 1885.9,1737.4 1887.3,1742.2 1888.7,1745.7 1890.1,1745.6 1891.5,1735.4 1892.9,1753.7 1894.3,1746.0 1895.7,1744.5 1897.1,1748.8 1898.5,1742.3 1899.9,1737.3 1901.3,1749.3 1902.7,1732.8 1904.1,1737.8 1905.5,1738.5 1906.9,1735.3 1908.3,1739.8 1909.7,1740.4 1911.1,1746.8 1912.5,1727.3 1913.9,1728.3 1915.3,1730.8 1916.7,1729.0 1918.1,1723.3 1919.5,1730.4 1920.9,1728.2 1922.3,1728.9 1923.7,1731.7 1925.1,1730.5 1926.5,1726.0 1927.9,1724.6 1929.3,1718.2 1930.7,1721.4 1932.1,1718.8 1933.5,1711.0 1934.9,1710.8 1936.3,1696.4 1937.7,1719.4 1939.1,1722.0 1940.5,1709.0 1941.9,1713.6 1943.3,1711.4 1944.7,1703.1 1946.1,1713.0 1947.5,1711.2 1948.9,1708.1 1950.3,1701.5 1951.7,1695.7 1953.1,1700.2 1954.5,1692.5 1955.9,1699.5 1957.3,1699.2 1958.7,1704.8 1960.1,1684.9 1961.5,1702.0 1962.9,1704.2 1964.3,1690.8 1965.7,1683.3 1967.1,1684.4 1968.5,1683.9 1969.9,1687.5 1971.3,1671.9 1972.7,1681.3 1974.1,1671.8 1975.5,1685.1 1976.9,1669.7 1978.3,1673.5 1979.7,1668.7 1981.1,1682.5 1982.5,1667.1 1983.9,1674.5 1985.3,1671.9 1986.7,1665.2 1988.1,1682.6 1989.5,1676.0 1990.9,1669.5 1992.3,1675.3 1993.7,1663.2 1995.1,1661.6 1996.5,1656.1 1997.9,1657.4 1999.3,1663.6 2000.7,1654.8 2002.1,1652.4 2003.5,1646.1 2004.9,1642.2 2006.3,1651.0 2007.7,1639.1 2009.1,1640.2 2010.5,1642.1 2011.9,1638.2 2013.3,1648.9 2014.7,1627.6 2016.1,1637.9 2017.5,1635.2 2018.9,1622.3 2020.3,1621.1 2021.7,1624.0 2023.1,1629.6 2024.5,1612.7 2025.9,1613.5 2027.3,1624.9 2028.7,1628.2 2030.1,1619.0 2031.5,1607.2 2032.9,1621.2 2034.3,1611.0 2035.7,1615.5 2037.1,1607.4 2038.5,1604.5 2039.9,1610.6 2041.3,1610.0 2042.7,1602.7 2044.1,1579.1 2045.5,1582.9 2046.9,1597.3 2048.3,1588.8 2049.7,1584.1 2051.1,1588.4 2052.5,1584.7 2053.9,1582.1 2055.3,1578.2 2056.7,1578.5 2058.1,1579.1 2059.5,1583.4 2060.9,1573.9 2062.3,1569.6 2063.7,1564.5 2065.1,1575.6 2066.5,1560.2 2067.9,1556.8 2069.3,1560.0 2070.7,1558.5 2072.1,1558.3 2073.5,1550.5 2074.9,1552.8 2076.3,1549.1 2077.7,1542.6 2079.1,1541.0 2080.5,1546.2 2081.9,1542.3 2083.3,1530.2 2084.7,1525.7 2086.1,1517.7 2087.5,1522.7 2088.9,1523.4 2090.3,1525.1 2091.7,1515.2 2093.1,1523.2 2094.5,1510.7 2095.9,1509.7 2097.3,1513.5 2098.7,1497.3 2100.1,1496.6 2101.5,1486.5 2102.9,1488.0 2104.3,1480.3 2105.7,1488.3 2107.1,1483.5 2108.5,1485.1 2109.9,1480.4 2111.3,1472.9 2112.7,1474.8 2114.1,1468.6 2115.5,1469.4 2116.9,1472.4 2118.3,1449.5 2119.7,1445.7 2121.1,1442.3 2122.5,1437.3 2123.9,1441.2 2125.3,1442.7 2126.7,1429.5 2128.1,1425.7 2129.5,1413.3 2130.9,1431.5 2132.3,1420.1 2133.7,1411.4 2135.1,1421.1 2136.5,1418.3 2137.9,1408.4 2139.3,1403.5 2140.7,1396.8 2142.1,1401.1 2143.5,1386.2 2144.9,1380.9 2146.3,1397.2 2147.7,1385.5 2149.1,1383.8 2150.5,1376.6 2151.9,1367.9 2153.3,1370.0 2154.7,1364.7 2156.1,1360.4 2157.5,1364.9 2158.9,1366.3 2160.3,1364.3 2161.7,1352.4 2163.1,1356.0 2164.5,1352.8 2165.9,1365.7 2167.3,1365.5 2168.7,1368.1 2170.1,1360.0 2171.5,1356.8 2172.9,1361.8 2174.3,1362.3 2175.7,1358.9 2177.1,1365.3 2178.5,1370.1 2179.9,1370.3 2181.3,1365.4 2182.7,1361.5 2184.1,1372.4 2185.5,1377.4 2186.9,1378.5 2188.3,1379.0 2189.7,1378.0 2191.1,1386.0 2192.5,1384.7 2193.9,1388.4 2195.3,1386.4 2196.7,1391.4 2198.1,1398.2 2199.5,1395.1 2200.9,1396.0 2202.3,1401.9 2203.7,1409.5 2205.1,1403.8 2206.5,1409.7 2207.9,1404.3 2209.3,1408.5 2210.7,1408.7 2212.1,1415.7 2213.5,1424.8 2214.9,1417.0 2216.3,1417.2 2217.7,1413.1 2219.1,1415.1 2220.5,1415.1 2221.9,1415.1 2223.3,1415.3 2224.7,1414.1 2226.1,1415.7 2227.5,1414.5 2228.9,1409.6 2230.3,1411.1 2231.7,1405.8 2233.1,1412.5 2234.5,1395.3 2235.9,1403.6 2237.3,1416.0 2238.7,1401.9 2240.1,1396.8 2241.5,1401.8 2242.9,1407.6 2244.3,1398.1 2245.7,1397.3 2247.1,1390.2 2248.5,1384.9 2249.9,1399.7 2251.3,1385.5 2252.7,1382.2 2254.1,1381.5 2255.5,1383.6 2256.9,1379.2 2258.3,1374.8 2259.7,1365.9 2261.1,1353.8 2262.5,1359.3 2263.9,1350.1 2265.3,1345.0 2266.7,1335.5 2268.1,1336.5 2269.5,1330.4 2270.9,1326.1 2272.3,1311.9 2273.7,1314.9 2275.1,1312.3 2276.5,1301.0 2277.9,1296.5 2279.3,1289.0 2280.7,1290.3 2282.1,1265.7 2283.5,1270.2 2284.9,1261.7 2286.3,1267.0 2287.7,1271.4 2289.1,1261.1 2290.5,1260.7 2291.9,1250.5 2293.3,1258.2 2294.7,1249.2 2296.1,1247.2 2297.5,1233.6 2298.9,1234.7 2300.3,1246.5 2301.7,1242.1 2303.1,1245.2 2304.5,1254.2 2305.9,1249.9 2307.3,1265.2 2308.7,1265.5 2310.1,1275.7 2311.5,1280.0 2312.9,1299.2 2314.3,1297.5 2315.7,1314.4 2317.1,1323.4 2318.5,1331.0 2319.9,1340.5 2321.3,1354.5 2322.7,1351.8 2324.1,1380.6 2325.5,1386.0 2326.9,1397.9 2328.3,1405.4 2329.7,1407.7 2331.1,1418.6 2332.5,1432.9 2333.9,1446.4 2335.3,1445.7 2336.7,1453.4 2338.1,1473.7 2339.5,1471.1 2340.9,1493.3 2342.3,1490.2 2343.7,1491.9 2345.1,1509.3 2346.5,1520.4 2347.9,1509.6 2349.3,1527.4 2350.7,1523.0 2352.1,1534.5 2353.5,1526.8 2354.9,1523.2 2356.3,1537.0 2357.7,1543.2 2359.1,1538.9 2360.5,1552.7 2361.9,1549.0 2363.3,1545.6 2364.7,1545.6 2366.1,1548.8 2367.5,1549.2 2368.9,1554.4 2370.3,1546.9 2371.7,1563.0 2373.1,1556.0 2374.5,1578.8 2375.9,1570.1 2377.3,1566.4 2378.7,1573.4 2380.1,1566.6 2381.5,1570.8 2382.9,1565.6 2384.3,1582.8 2385.7,1580.9 2387.1,1573.1 2388.5,1577.6 2389.9,1582.8 2391.3,1581.7 2392.7,1582.2 2394.1,1579.2 2395.5,1585.1 2396.9,1592.5 2398.3,1579.5 2399.7,1590.1 2401.1,1588.4 2402.5,1600.4 2403.9,1585.5 2405.3,1603.3 2406.7,1587.9 2408.1,1602.8 2409.5,1608.3 2410.9,1604.5 2412.3,1604.0 2413.7,1593.7 2415.1,1594.2 2416.5,1601.4 2417.9,1606.1 2419.3,1605.5 2420.7,1611.0 2422.1,1604.2 2423.5,1607.4 2424.9,1614.3 2426.3,1612.1 2427.7,1614.3 2429.1,1612.2 2430.5,1623.6 2431.9,1611.9 2433.3,1614.7 2434.7,1600.1 2436.1,1610.2 2437.5,1603.1 2438.9,1617.0 2440.3,1608.0 2441.7,1614.1 2443.1,1621.9 2444.5,1611.0 2445.9,1612.1 2447.3,1607.1 2448.7,1599.0 2450.1,1614.0 2451.5,1615.9 2452.9,1608.2 2454.3,1616.5 2455.7,1611.9 2457.1,1613.0 2458.5,1618.9 2459.9,1615.7 2461.3,1628.1 2462.7,1605.7 2464.1,1613.8 2465.5,1615.9 2466.9,1605.1 2468.3,1602.5 2469.7,1617.6 2471.1,1611.1 2472.5,1620.1 2473.9,1617.9 2475.3,1610.9 2476.7,1609.3 2478.1,1602.7 2479.5,1615.0 2480.9,1605.6 2482.3,1609.5 2483.7,1610.5 2485.1,1605.6 2486.5,1621.6 2487.9,1617.5 2489.3,1614.8 2490.7,1604.3 2492.1,1596.9 2493.5,1612.1 2494.9,1615.6 2496.3,1612.3 2497.7,1617.7 2499.1,1615.1 2500.5,1615.0 2501.9,1608.9 2503.3,1615.2 2504.7,1611.0 2506.1,1599.6 2507.5,1621.3 2508.9,1617.1 2510.3,1623.6 2511.7,1617.8 2513.1,1616.7 2514.5,1613.2 2515.9,1619.5 2517.3,1615.2 2518.7,1615.1 2520.1,1613.6 2521.5,1617.7 2522.9,1609.7 2524.3,1602.5 2525.7,1614.9 2527.1,1612.3 2528.5,1620.6 2529.9,1622.0 2531.3,1626.0 2532.7,1625.5 2534.1,1617.6 2535.5,1617.6 2536.9,1609.2 2538.3,1621.5 2539.7,1615.0 2541.1,1620.1 2542.5,1613.7 2543.9,1607.3 2545.3,1626.8 2546.7,1623.3" fill="none" stroke="#5cc4d1" stroke-width="3.0" stroke-linejoin="miter"/>
<rect x="1657.7" y="1079.6" width="889.3" height="886.9000000000001" fill="none" stroke="#0d0d10" stroke-width="6.8"/>
<line x1="1657.7" y1="1963.5" x2="1657.7" y2="2001.5" stroke="#0d0d10" stroke-width="6.5"/>
<line x1="1805.9" y1="1966.5" x2="1805.9" y2="1986.3" stroke="#0d0d10" stroke-width="5.4"/>
<line x1="1954.1" y1="1963.5" x2="1954.1" y2="2001.5" stroke="#0d0d10" stroke-width="6.5"/>
<line x1="2102.3" y1="1966.5" x2="2102.3" y2="1986.3" stroke="#0d0d10" stroke-width="5.4"/>
<line x1="2250.6" y1="1963.5" x2="2250.6" y2="2001.5" stroke="#0d0d10" stroke-width="6.5"/>
<line x1="2398.8" y1="1966.5" x2="2398.8" y2="1986.3" stroke="#0d0d10" stroke-width="5.4"/>
<line x1="2547.0" y1="1963.5" x2="2547.0" y2="2001.5" stroke="#0d0d10" stroke-width="6.5"/>
<text x="1656.7" y="2070.7" font-size="62" text-anchor="middle" fill="#0d0d10" >500</text>
<text x="1954.6" y="2070.7" font-size="62" text-anchor="middle" fill="#0d0d10" >1 000</text>
<text x="2251.1" y="2070.7" font-size="62" text-anchor="middle" fill="#0d0d10" >1 500</text>
<text x="2547.5" y="2070.7" font-size="62" text-anchor="middle" fill="#0d0d10" >2 000</text>
<text x="1857.6" y="2151" font-size="63" fill="#0d0d10" textLength="510" lengthAdjust="spacingAndGlyphs">Raman shift (cm<tspan font-size="38" dy="-22">−1</tspan><tspan dy="22">)</tspan></text>
<text transform="translate(1617.7 1726.4) rotate(-90)" font-size="63" fill="#0d0d10" textLength="390" lengthAdjust="spacingAndGlyphs">Intensity (a.u.)</text>
<line x1="1689" y1="1148.2" x2="1787.5" y2="1148.2" stroke="#7b7e8c" stroke-width="7.4"/>
<line x1="1689" y1="1244.4" x2="1787.5" y2="1244.4" stroke="#6cc6cf" stroke-width="7.4"/>
<text x="1807.9" y="1167.5" font-size="63" fill="#0d0d10" textLength="151.5" lengthAdjust="spacingAndGlyphs">O-CD</text>
<text x="1808.4" y="1267" font-size="63" fill="#0d0d10" textLength="148.5" lengthAdjust="spacingAndGlyphs">N-CD</text>
<clipPath id="cg"><rect x="2843.4" y="1079.6" width="890.2999999999997" height="887.6000000000001"/></clipPath>
<polyline clip-path="url(#cg)" points="2843.4,1721.0 2844.9,1719.0 2846.4,1717.5 2847.9,1716.8 2849.4,1715.8 2850.9,1713.3 2852.4,1709.9 2853.9,1707.1 2855.4,1705.6 2856.9,1704.5 2858.4,1703.4 2859.9,1702.5 2861.4,1700.9 2862.9,1697.6 2864.4,1693.4 2865.9,1690.5 2867.4,1688.6 2868.9,1686.7 2870.4,1684.1 2871.9,1680.2 2873.4,1675.1 2874.9,1670.0 2876.4,1665.3 2877.9,1660.6 2879.4,1656.6 2880.9,1653.3 2882.4,1649.8 2883.9,1644.9 2885.4,1639.0 2886.9,1633.1 2888.4,1627.4 2889.9,1621.3 2891.4,1614.5 2892.9,1608.3 2894.4,1602.5 2895.9,1596.7 2897.4,1590.9 2898.9,1584.2 2900.4,1575.9 2901.9,1566.8 2903.4,1558.2 2904.9,1549.9 2906.4,1541.6 2907.9,1533.2 2909.4,1524.5 2910.9,1515.3 2912.4,1505.3 2913.9,1494.6 2915.4,1484.4 2916.9,1475.5 2918.4,1467.0 2919.9,1458.7 2921.4,1450.8 2922.9,1442.4 2924.4,1433.5 2925.9,1425.0 2927.4,1417.7 2928.9,1411.2 2930.4,1404.7 2931.9,1398.4 2933.4,1392.4 2934.9,1386.7 2936.4,1380.4 2937.9,1374.7 2939.4,1371.6 2940.9,1371.0 2942.4,1371.6 2943.9,1373.5 2945.4,1377.3 2946.9,1383.5 2948.4,1391.1 2949.9,1398.2 2951.4,1403.7 2952.9,1408.3 2954.4,1413.0 2955.9,1419.2 2957.4,1426.3 2958.9,1432.8 2960.4,1438.6 2961.9,1444.8 2963.4,1452.1 2964.9,1459.8 2966.4,1467.3 2967.9,1474.5 2969.4,1481.6 2970.9,1489.0 2972.4,1495.3 2973.9,1500.7 2975.4,1506.3 2976.9,1512.4 2978.4,1518.3 2979.9,1524.5 2981.4,1531.0 2982.9,1536.9 2984.4,1542.1 2985.9,1547.4 2987.4,1552.8 2988.9,1556.8 2990.4,1559.6 2991.9,1562.7 2993.4,1566.5 2994.9,1570.0 2996.4,1573.4 2997.9,1576.6 2999.4,1579.3 3000.9,1581.8 3002.4,1584.5 3003.9,1588.3 3005.4,1594.0 3006.9,1600.6 3008.4,1605.8 3009.9,1608.7 3011.4,1611.1 3012.9,1614.0 3014.4,1617.1 3015.9,1619.4 3017.4,1620.7 3018.9,1621.9 3020.4,1623.5 3021.9,1625.2 3023.4,1627.4 3024.9,1631.1 3026.4,1635.7 3027.9,1639.8 3029.4,1643.6 3030.9,1647.7 3032.4,1650.7 3033.9,1652.3 3035.4,1654.2 3036.9,1657.3 3038.4,1660.4 3039.9,1662.5 3041.4,1664.3 3042.9,1666.7 3044.4,1670.0 3045.9,1674.8 3047.4,1679.7 3048.9,1683.6 3050.4,1686.7 3051.9,1689.5 3053.4,1691.8 3054.9,1693.6 3056.4,1695.7 3057.9,1699.0 3059.4,1703.7 3060.9,1708.5 3062.4,1711.8 3063.9,1713.1 3065.4,1714.0 3066.9,1716.5 3068.4,1720.6 3069.9,1724.7 3071.4,1727.4 3072.9,1729.3 3074.4,1731.9 3075.9,1735.3 3077.4,1738.5 3078.9,1741.6 3080.4,1745.2 3081.9,1748.9 3083.4,1752.4 3084.9,1755.5 3086.4,1757.9 3087.9,1759.4 3089.4,1760.6 3090.9,1761.4 3092.4,1762.4 3093.9,1764.1 3095.4,1766.6 3096.9,1769.5 3098.4,1772.2 3099.9,1773.7 3101.4,1773.6 3102.9,1773.2 3104.4,1774.3 3105.9,1776.5 3107.4,1779.0 3108.9,1781.6 3110.4,1784.0 3111.9,1785.4 3113.4,1785.8 3114.9,1786.3 3116.4,1787.0 3117.9,1788.0 3119.4,1789.8 3120.9,1791.4 3122.4,1792.8 3123.9,1795.1 3125.4,1796.6 3126.9,1795.5 3128.4,1793.6 3129.9,1793.6 3131.4,1795.0 3132.9,1796.5 3134.4,1797.4 3135.9,1798.2 3137.4,1798.9 3138.9,1798.8 3140.4,1798.7 3141.9,1799.8 3143.4,1802.1 3144.9,1804.2 3146.4,1805.2 3147.9,1805.5 3149.4,1806.6 3150.9,1808.3 3152.4,1809.6 3153.9,1809.8 3155.4,1809.8 3156.9,1809.9 3158.4,1809.9 3159.9,1810.5 3161.4,1811.5 3162.9,1812.8 3164.4,1814.6 3165.9,1816.2 3167.4,1816.7 3168.9,1816.8 3170.4,1817.3 3171.9,1817.6 3173.4,1817.0 3174.9,1816.9 3176.4,1817.5 3177.9,1817.9 3179.4,1818.1 3180.9,1818.6 3182.4,1819.1 3183.9,1819.0 3185.4,1818.1 3186.9,1817.2 3188.4,1816.6 3189.9,1816.2 3191.4,1816.1 3192.9,1817.1 3194.4,1819.5 3195.9,1821.9 3197.4,1822.4 3198.9,1821.0 3200.4,1819.5 3201.9,1818.6 3203.4,1818.4 3204.9,1818.7 3206.4,1818.9 3207.9,1818.6 3209.4,1818.2 3210.9,1817.6 3212.4,1816.6 3213.9,1816.0 3215.4,1816.3 3216.9,1817.2 3218.4,1817.7 3219.9,1816.8 3221.4,1814.8 3222.9,1813.3 3224.4,1812.5 3225.9,1811.9 3227.4,1812.1 3228.9,1812.5 3230.4,1812.2 3231.9,1811.8 3233.4,1812.2 3234.9,1812.6 3236.4,1812.9 3237.9,1814.1 3239.4,1815.6 3240.9,1815.0 3242.4,1812.7 3243.9,1811.5 3245.4,1811.6 3246.9,1811.9 3248.4,1812.2 3249.9,1812.2 3251.4,1810.8 3252.9,1808.6 3254.4,1808.2 3255.9,1810.2 3257.4,1812.3 3258.9,1812.7 3260.4,1812.6 3261.9,1813.6 3263.4,1814.4 3264.9,1814.5 3266.4,1814.8 3267.9,1815.9 3269.4,1816.8 3270.9,1816.8 3272.4,1816.2 3273.9,1815.3 3275.4,1814.6 3276.9,1814.5 3278.4,1815.2 3279.9,1816.2 3281.4,1817.4 3282.9,1818.8 3284.4,1819.3 3285.9,1818.7 3287.4,1817.9 3288.9,1817.8 3290.4,1817.9 3291.9,1818.4 3293.4,1820.1 3294.9,1822.2 3296.4,1822.7 3297.9,1821.8 3299.4,1821.4 3300.9,1822.6 3302.4,1824.2 3303.9,1824.4 3305.4,1823.2 3306.9,1822.7 3308.4,1824.3 3309.9,1826.7 3311.4,1829.1 3312.9,1831.0 3314.4,1831.5 3315.9,1829.9 3317.4,1828.1 3318.9,1828.1 3320.4,1830.0 3321.9,1832.2 3323.4,1833.6 3324.9,1834.6 3326.4,1835.5 3327.9,1835.7 3329.4,1834.6 3330.9,1832.7 3332.4,1831.3 3333.9,1831.1 3335.4,1832.8 3336.9,1836.2 3338.4,1839.5 3339.9,1840.7 3341.4,1839.8 3342.9,1838.6 3344.4,1838.8 3345.9,1840.1 3347.4,1841.0 3348.9,1841.5 3350.4,1841.8 3351.9,1841.6 3353.4,1841.5 3354.9,1842.4 3356.4,1843.3 3357.9,1844.2 3359.4,1846.2 3360.9,1848.9 3362.4,1850.3 3363.9,1849.3 3365.4,1847.3 3366.9,1846.4 3368.4,1846.4 3369.9,1846.0 3371.4,1846.1 3372.9,1848.2 3374.4,1851.5 3375.9,1853.4 3377.4,1853.3 3378.9,1852.4 3380.4,1852.0 3381.9,1852.4 3383.4,1853.3 3384.9,1854.2 3386.4,1854.7 3387.9,1854.8 3389.4,1855.3 3390.9,1856.5 3392.4,1857.0 3393.9,1856.3 3395.4,1854.9 3396.9,1854.3 3398.4,1855.0 3399.9,1856.1 3401.4,1856.2 3402.9,1855.5 3404.4,1855.8 3405.9,1857.7 3407.4,1859.2 3408.9,1859.4 3410.4,1859.1 3411.9,1858.8 3413.4,1858.4 3414.9,1858.4 3416.4,1859.2 3417.9,1860.6 3419.4,1861.8 3420.9,1862.4 3422.4,1862.6 3423.9,1861.7 3425.4,1860.1 3426.9,1859.6 3428.4,1860.5 3429.9,1861.4 3431.4,1861.8 3432.9,1862.5 3434.4,1863.9 3435.9,1864.7 3437.4,1864.0 3438.9,1863.2 3440.4,1863.6 3441.9,1864.7 3443.4,1865.8 3444.9,1866.6 3446.4,1866.9 3447.9,1866.7 3449.4,1865.5 3450.9,1864.0 3452.4,1863.7 3453.9,1864.5 3455.4,1865.2 3456.9,1865.6 3458.4,1865.7 3459.9,1865.7 3461.4,1865.9 3462.9,1866.5 3464.4,1867.4 3465.9,1868.5 3467.4,1869.8 3468.9,1870.6 3470.4,1870.1 3471.9,1869.7 3473.4,1870.8 3474.9,1872.5 3476.4,1873.3 3477.9,1872.8 3479.4,1872.0 3480.9,1871.9 3482.4,1871.8 3483.9,1870.3 3485.4,1867.8 3486.9,1866.5 3488.4,1867.6 3489.9,1869.0 3491.4,1868.9 3492.9,1869.3 3494.4,1870.9 3495.9,1872.2 3497.4,1871.9 3498.9,1870.7 3500.4,1870.4 3501.9,1870.6 3503.4,1871.0 3504.9,1872.6 3506.4,1874.5 3507.9,1874.3 3509.4,1871.7 3510.9,1869.5 3512.4,1869.7 3513.9,1871.2 3515.4,1872.8 3516.9,1874.6 3518.4,1875.4 3519.9,1874.0 3521.4,1872.2 3522.9,1871.6 3524.4,1871.7 3525.9,1872.2 3527.4,1872.9 3528.9,1873.3 3530.4,1872.7 3531.9,1872.0 3533.4,1872.3 3534.9,1873.2 3536.4,1874.2 3537.9,1874.8 3539.4,1874.6 3540.9,1874.4 3542.4,1875.8 3543.9,1877.5 3545.4,1877.6 3546.9,1876.2 3548.4,1874.3 3549.9,1872.6 3551.4,1872.2 3552.9,1873.3 3554.4,1874.5 3555.9,1874.8 3557.4,1874.6 3558.9,1874.2 3560.4,1874.4 3561.9,1875.0 3563.4,1875.4 3564.9,1874.9 3566.4,1873.5 3567.9,1872.6 3569.4,1873.8 3570.9,1876.4 3572.4,1877.4 3573.9,1876.1 3575.4,1874.1 3576.9,1873.3 3578.4,1873.8 3579.9,1874.0 3581.4,1874.0 3582.9,1874.5 3584.4,1875.1 3585.9,1874.6 3587.4,1873.7 3588.9,1873.5 3590.4,1874.1 3591.9,1874.9 3593.4,1875.1 3594.9,1875.4 3596.4,1876.4 3597.9,1877.2 3599.4,1877.1 3600.9,1876.7 3602.4,1876.0 3603.9,1875.4 3605.4,1874.6 3606.9,1874.0 3608.4,1874.3 3609.9,1874.5 3611.4,1874.0 3612.9,1873.4 3614.4,1872.9 3615.9,1872.2 3617.4,1871.9 3618.9,1872.4 3620.4,1873.5 3621.9,1874.1 3623.4,1873.5 3624.9,1873.2 3626.4,1874.0 3627.9,1875.5 3629.4,1876.6 3630.9,1876.6 3632.4,1875.7 3633.9,1875.3 3635.4,1875.9 3636.9,1876.5 3638.4,1875.9 3639.9,1874.6 3641.4,1875.0 3642.9,1877.1 3644.4,1878.2 3645.9,1877.4 3647.4,1875.8 3648.9,1874.2 3650.4,1873.4 3651.9,1873.3 3653.4,1873.3 3654.9,1872.8 3656.4,1872.8 3657.9,1873.8 3659.4,1874.7 3660.9,1874.4 3662.4,1873.2 3663.9,1872.4 3665.4,1872.6 3666.9,1872.6 3668.4,1872.1 3669.9,1872.3 3671.4,1873.5 3672.9,1874.6 3674.4,1875.4 3675.9,1875.7 3677.4,1875.3 3678.9,1874.3 3680.4,1873.6 3681.9,1874.0 3683.4,1875.1 3684.9,1875.7 3686.4,1875.8 3687.9,1876.5 3689.4,1878.0 3690.9,1879.2 3692.4,1879.5 3693.9,1879.3 3695.4,1879.0 3696.9,1878.8 3698.4,1878.5 3699.9,1878.0 3701.4,1877.9 3702.9,1878.7 3704.4,1879.2 3705.9,1878.0 3707.4,1876.3 3708.9,1875.5 3710.4,1875.2 3711.9,1874.3 3713.4,1872.8 3714.9,1872.2 3716.4,1872.7 3717.9,1873.8 3719.4,1875.5 3720.9,1877.6 3722.4,1879.3 3723.9,1879.4 3725.4,1877.5 3726.9,1875.0 3728.4,1873.4 3729.9,1872.8 3731.4,1871.9 3732.9,1870.0" fill="none" stroke="#5f6272" stroke-width="14" stroke-linejoin="round"/>
<polyline clip-path="url(#cg)" points="2843.4,1721.2 2844.9,1725.1 2846.4,1719.6 2847.9,1715.8 2849.4,1716.2 2850.9,1710.9 2852.4,1708.2 2853.9,1701.5 2855.4,1705.9 2856.9,1709.4 2858.4,1703.9 2859.9,1703.6 2861.4,1697.8 2862.9,1702.2 2864.4,1693.7 2865.9,1693.0 2867.4,1689.0 2868.9,1683.6 2870.4,1687.4 2871.9,1680.3 2873.4,1675.6 2874.9,1671.4 2876.4,1665.2 2877.9,1659.4 2879.4,1658.1 2880.9,1652.0 2882.4,1650.0 2883.9,1642.7 2885.4,1634.3 2886.9,1631.0 2888.4,1631.5 2889.9,1621.4 2891.4,1618.3 2892.9,1602.9 2894.4,1603.0 2895.9,1589.7 2897.4,1581.3 2898.9,1582.6 2900.4,1568.7 2901.9,1560.9 2903.4,1558.7 2904.9,1550.2 2906.4,1541.3 2907.9,1530.6 2909.4,1531.4 2910.9,1514.8 2912.4,1502.6 2913.9,1497.9 2915.4,1486.3 2916.9,1474.3 2918.4,1470.8 2919.9,1459.2 2921.4,1452.8 2922.9,1443.2 2924.4,1430.2 2925.9,1428.1 2927.4,1418.2 2928.9,1407.9 2930.4,1402.3 2931.9,1404.0 2933.4,1391.2 2934.9,1386.8 2936.4,1382.5 2937.9,1375.1 2939.4,1366.7 2940.9,1373.0 2942.4,1374.6 2943.9,1376.2 2945.4,1382.4 2946.9,1384.6 2948.4,1393.6 2949.9,1403.2 2951.4,1394.1 2952.9,1413.9 2954.4,1418.6 2955.9,1421.7 2957.4,1432.2 2958.9,1435.6 2960.4,1435.8 2961.9,1448.5 2963.4,1453.1 2964.9,1461.1 2966.4,1467.8 2967.9,1478.8 2969.4,1483.4 2970.9,1486.7 2972.4,1496.9 2973.9,1503.0 2975.4,1499.7 2976.9,1511.0 2978.4,1517.1 2979.9,1522.5 2981.4,1532.1 2982.9,1540.2 2984.4,1548.2 2985.9,1551.2 2987.4,1556.1 2988.9,1560.5 2990.4,1563.8 2991.9,1561.5 2993.4,1568.7 2994.9,1571.0 2996.4,1573.0 2997.9,1575.1 2999.4,1577.7 3000.9,1580.9 3002.4,1580.5 3003.9,1589.9 3005.4,1593.9 3006.9,1601.0 3008.4,1606.9 3009.9,1611.0 3011.4,1609.2 3012.9,1613.7 3014.4,1611.9 3015.9,1612.3 3017.4,1614.5 3018.9,1626.8 3020.4,1617.6 3021.9,1626.7 3023.4,1632.1 3024.9,1629.6 3026.4,1640.9 3027.9,1645.8 3029.4,1646.7 3030.9,1655.3 3032.4,1652.7 3033.9,1649.9 3035.4,1655.9 3036.9,1655.9 3038.4,1656.2 3039.9,1658.4 3041.4,1671.7 3042.9,1665.0 3044.4,1670.0 3045.9,1672.7 3047.4,1680.2 3048.9,1682.9 3050.4,1685.4 3051.9,1696.7 3053.4,1687.3 3054.9,1691.3 3056.4,1696.7 3057.9,1705.7 3059.4,1707.1 3060.9,1714.4 3062.4,1713.4 3063.9,1712.9 3065.4,1709.8 3066.9,1716.6 3068.4,1713.8 3069.9,1723.8 3071.4,1732.6 3072.9,1730.4 3074.4,1735.5 3075.9,1734.1 3077.4,1734.2 3078.9,1740.1 3080.4,1744.0 3081.9,1752.9 3083.4,1758.8 3084.9,1753.2 3086.4,1756.8 3087.9,1759.0 3089.4,1759.5 3090.9,1763.0 3092.4,1762.8 3093.9,1765.3 3095.4,1767.9 3096.9,1765.8 3098.4,1771.9 3099.9,1768.2 3101.4,1776.6 3102.9,1770.1 3104.4,1773.5 3105.9,1775.1 3107.4,1777.2 3108.9,1778.3 3110.4,1778.4 3111.9,1791.0 3113.4,1786.7 3114.9,1787.2 3116.4,1791.4 3117.9,1787.8 3119.4,1791.7 3120.9,1791.5 3122.4,1796.7 3123.9,1796.8 3125.4,1797.7 3126.9,1794.8 3128.4,1798.9 3129.9,1797.4 3131.4,1788.5 3132.9,1796.2 3134.4,1796.2 3135.9,1797.4 3137.4,1792.7 3138.9,1801.3 3140.4,1796.1 3141.9,1799.2 3143.4,1800.6 3144.9,1799.0 3146.4,1803.9 3147.9,1799.7 3149.4,1803.7 3150.9,1807.4 3152.4,1809.7 3153.9,1810.0 3155.4,1809.5 3156.9,1816.8 3158.4,1811.4 3159.9,1806.7 3161.4,1809.6 3162.9,1810.8 3164.4,1814.1 3165.9,1814.4 3167.4,1814.1 3168.9,1822.1 3170.4,1817.6 3171.9,1816.6 3173.4,1816.3 3174.9,1816.3 3176.4,1822.0 3177.9,1819.5 3179.4,1821.8 3180.9,1809.0 3182.4,1820.2 3183.9,1822.5 3185.4,1824.5 3186.9,1817.4 3188.4,1811.2 3189.9,1818.2 3191.4,1815.6 3192.9,1811.5 3194.4,1817.6 3195.9,1825.3 3197.4,1826.3 3198.9,1823.5 3200.4,1816.2 3201.9,1826.8 3203.4,1814.8 3204.9,1818.6 3206.4,1814.4 3207.9,1822.9 3209.4,1819.7 3210.9,1820.5 3212.4,1817.0 3213.9,1806.4 3215.4,1817.0 3216.9,1811.3 3218.4,1821.0 3219.9,1819.9 3221.4,1813.7 3222.9,1813.4 3224.4,1813.5 3225.9,1817.1 3227.4,1813.6 3228.9,1812.8 3230.4,1810.7 3231.9,1807.1 3233.4,1810.4 3234.9,1813.0 3236.4,1812.2 3237.9,1814.5 3239.4,1818.1 3240.9,1816.6 3242.4,1813.8 3243.9,1813.7 3245.4,1812.4 3246.9,1812.0 3248.4,1813.9 3249.9,1806.8 3251.4,1814.9 3252.9,1804.7 3254.4,1811.0 3255.9,1815.6 3257.4,1816.0 3258.9,1813.0 3260.4,1809.8 3261.9,1817.2 3263.4,1815.2 3264.9,1815.0 3266.4,1815.2 3267.9,1819.3 3269.4,1819.6 3270.9,1817.7 3272.4,1811.4 3273.9,1814.2 3275.4,1815.1 3276.9,1820.5 3278.4,1816.6 3279.9,1816.0 3281.4,1821.4 3282.9,1818.6 3284.4,1819.4 3285.9,1819.4 3287.4,1813.3 3288.9,1821.0 3290.4,1819.4 3291.9,1817.7 3293.4,1816.7 3294.9,1823.0 3296.4,1827.3 3297.9,1819.9 3299.4,1818.2 3300.9,1824.1 3302.4,1818.1 3303.9,1817.5 3305.4,1822.0 3306.9,1820.7 3308.4,1823.5 3309.9,1825.1 3311.4,1830.3 3312.9,1830.5 3314.4,1829.7 3315.9,1828.6 3317.4,1830.3 3318.9,1831.4 3320.4,1833.1 3321.9,1834.6 3323.4,1824.0 3324.9,1831.6 3326.4,1834.7 3327.9,1836.6 3329.4,1829.6 3330.9,1837.4 3332.4,1832.5 3333.9,1829.3 3335.4,1833.5 3336.9,1835.3 3338.4,1831.0 3339.9,1842.5 3341.4,1838.5 3342.9,1834.2 3344.4,1837.0 3345.9,1839.9 3347.4,1837.8 3348.9,1845.7 3350.4,1838.5 3351.9,1847.4 3353.4,1844.6 3354.9,1839.5 3356.4,1843.9 3357.9,1848.2 3359.4,1845.7 3360.9,1845.2 3362.4,1850.8 3363.9,1858.9 3365.4,1842.7 3366.9,1848.4 3368.4,1846.6 3369.9,1845.9 3371.4,1845.1 3372.9,1847.4 3374.4,1855.0 3375.9,1855.5 3377.4,1850.3 3378.9,1854.8 3380.4,1848.1 3381.9,1854.7 3383.4,1854.1 3384.9,1858.3 3386.4,1856.1 3387.9,1858.4 3389.4,1855.5 3390.9,1859.8 3392.4,1858.3 3393.9,1863.4 3395.4,1852.9 3396.9,1858.3 3398.4,1856.7 3399.9,1856.9 3401.4,1854.6 3402.9,1857.2 3404.4,1851.3 3405.9,1853.5 3407.4,1861.7 3408.9,1854.6 3410.4,1863.9 3411.9,1858.2 3413.4,1859.5 3414.9,1858.9 3416.4,1860.8 3417.9,1859.9 3419.4,1860.9 3420.9,1862.3 3422.4,1866.2 3423.9,1865.5 3425.4,1864.4 3426.9,1861.0 3428.4,1860.1 3429.9,1856.3 3431.4,1864.1 3432.9,1865.4 3434.4,1862.9 3435.9,1867.5 3437.4,1868.3 3438.9,1863.7 3440.4,1867.2 3441.9,1865.9 3443.4,1860.5 3444.9,1865.3 3446.4,1865.9 3447.9,1868.7 3449.4,1863.0 3450.9,1854.4 3452.4,1860.8 3453.9,1864.6 3455.4,1865.7 3456.9,1869.0 3458.4,1868.5 3459.9,1866.4 3461.4,1866.9 3462.9,1867.1 3464.4,1868.0 3465.9,1873.7 3467.4,1862.1 3468.9,1870.3 3470.4,1871.3 3471.9,1873.6 3473.4,1867.5 3474.9,1873.8 3476.4,1876.3 3477.9,1871.6 3479.4,1866.1 3480.9,1871.0 3482.4,1868.2 3483.9,1872.6 3485.4,1865.3 3486.9,1872.5 3488.4,1868.3 3489.9,1866.6 3491.4,1867.6 3492.9,1866.1 3494.4,1872.4 3495.9,1877.2 3497.4,1871.4 3498.9,1873.9 3500.4,1867.6 3501.9,1871.8 3503.4,1878.6 3504.9,1868.4 3506.4,1878.7 3507.9,1883.9 3509.4,1865.9 3510.9,1865.1 3512.4,1866.8 3513.9,1874.5 3515.4,1871.6 3516.9,1874.3 3518.4,1877.9 3519.9,1874.6 3521.4,1873.1 3522.9,1870.8 3524.4,1875.6 3525.9,1869.9 3527.4,1878.5 3528.9,1872.5 3530.4,1870.4 3531.9,1874.3 3533.4,1862.7 3534.9,1867.1 3536.4,1875.1 3537.9,1870.7 3539.4,1872.2 3540.9,1877.2 3542.4,1873.2 3543.9,1878.9 3545.4,1868.0 3546.9,1882.6 3548.4,1874.2 3549.9,1869.1 3551.4,1868.9 3552.9,1870.6 3554.4,1875.1 3555.9,1875.0 3557.4,1877.9 3558.9,1875.0 3560.4,1875.0 3561.9,1876.3 3563.4,1875.2 3564.9,1876.0 3566.4,1876.2 3567.9,1875.3 3569.4,1872.3 3570.9,1870.9 3572.4,1875.1 3573.9,1877.2 3575.4,1866.4 3576.9,1872.0 3578.4,1875.4 3579.9,1872.4 3581.4,1870.6 3582.9,1880.4 3584.4,1879.7 3585.9,1873.9 3587.4,1878.1 3588.9,1877.8 3590.4,1870.7 3591.9,1883.7 3593.4,1884.7 3594.9,1874.7 3596.4,1873.1 3597.9,1877.6 3599.4,1873.1 3600.9,1876.5 3602.4,1879.6 3603.9,1869.6 3605.4,1866.9 3606.9,1879.1 3608.4,1871.6 3609.9,1877.8 3611.4,1873.2 3612.9,1874.2 3614.4,1873.1 3615.9,1864.5 3617.4,1871.9 3618.9,1870.1 3620.4,1871.8 3621.9,1875.6 3623.4,1873.3 3624.9,1869.6 3626.4,1871.9 3627.9,1873.5 3629.4,1876.6 3630.9,1877.3 3632.4,1876.1 3633.9,1873.3 3635.4,1876.1 3636.9,1872.3 3638.4,1866.8 3639.9,1874.6 3641.4,1869.9 3642.9,1874.2 3644.4,1874.4 3645.9,1879.5 3647.4,1872.0 3648.9,1875.2 3650.4,1871.9 3651.9,1869.5 3653.4,1868.3 3654.9,1874.4 3656.4,1874.1 3657.9,1876.4 3659.4,1880.7 3660.9,1874.3 3662.4,1874.2 3663.9,1872.5 3665.4,1873.0 3666.9,1871.6 3668.4,1869.3 3669.9,1881.9 3671.4,1867.6 3672.9,1875.5 3674.4,1876.8 3675.9,1876.2 3677.4,1872.3 3678.9,1873.7 3680.4,1872.1 3681.9,1870.6 3683.4,1875.0 3684.9,1874.4 3686.4,1874.1 3687.9,1878.7 3689.4,1874.6 3690.9,1880.6 3692.4,1877.6 3693.9,1880.7 3695.4,1879.2 3696.9,1879.6 3698.4,1875.4 3699.9,1875.5 3701.4,1875.2 3702.9,1879.3 3704.4,1881.5 3705.9,1881.4 3707.4,1874.7 3708.9,1875.7 3710.4,1870.0 3711.9,1867.2 3713.4,1870.0 3714.9,1870.0 3716.4,1867.7 3717.9,1868.1 3719.4,1877.2 3720.9,1875.0 3722.4,1873.9 3723.9,1886.8 3725.4,1878.1 3726.9,1874.0 3728.4,1875.5 3729.9,1870.3 3731.4,1876.9 3732.9,1875.5" fill="none" stroke="#5f6272" stroke-width="3.4" stroke-linejoin="miter"/>
<polyline clip-path="url(#cg)" points="2843.4,1549.4 2844.9,1548.5 2846.4,1546.8 2847.9,1544.1 2849.4,1541.0 2850.9,1538.6 2852.4,1537.0 2853.9,1535.8 2855.4,1534.8 2856.9,1533.8 2858.4,1532.3 2859.9,1529.3 2861.4,1525.7 2862.9,1523.0 2864.4,1521.1 2865.9,1519.1 2867.4,1516.1 2868.9,1512.3 2870.4,1508.5 2871.9,1504.9 2873.4,1501.5 2874.9,1498.0 2876.4,1494.0 2877.9,1489.4 2879.4,1484.8 2880.9,1480.4 2882.4,1476.4 2883.9,1472.8 2885.4,1468.8 2886.9,1464.1 2888.4,1459.3 2889.9,1453.8 2891.4,1446.3 2892.9,1438.2 2894.4,1431.3 2895.9,1425.1 2897.4,1418.3 2898.9,1410.8 2900.4,1403.1 2901.9,1395.5 2903.4,1388.0 2904.9,1380.0 2906.4,1370.9 2907.9,1361.6 2909.4,1352.5 2910.9,1343.6 2912.4,1335.4 2913.9,1327.7 2915.4,1320.4 2916.9,1313.5 2918.4,1306.3 2919.9,1299.1 2921.4,1292.5 2922.9,1285.8 2924.4,1278.8 2925.9,1272.7 2927.4,1267.4 2928.9,1261.7 2930.4,1255.2 2931.9,1249.0 2933.4,1243.9 2934.9,1240.6 2936.4,1238.3 2937.9,1236.0 2939.4,1233.7 2940.9,1231.5 2942.4,1229.7 2943.9,1229.8 2945.4,1232.2 2946.9,1235.2 2948.4,1238.4 2949.9,1243.1 2951.4,1249.4 2952.9,1255.9 2954.4,1261.7 2955.9,1265.9 2957.4,1268.8 2958.9,1272.1 2960.4,1276.9 2961.9,1282.6 2963.4,1288.5 2964.9,1294.6 2966.4,1301.2 2967.9,1308.4 2969.4,1315.1 2970.9,1319.8 2972.4,1323.3 2973.9,1328.1 2975.4,1334.9 2976.9,1341.4 2978.4,1346.4 2979.9,1351.2 2981.4,1356.3 2982.9,1361.3 2984.4,1365.6 2985.9,1369.3 2987.4,1373.1 2988.9,1377.6 2990.4,1382.4 2991.9,1387.5 2993.4,1392.3 2994.9,1396.6 2996.4,1401.0 2997.9,1405.3 2999.4,1409.0 3000.9,1411.9 3002.4,1413.8 3003.9,1415.3 3005.4,1417.5 3006.9,1421.3 3008.4,1426.6 3009.9,1431.4 3011.4,1434.0 3012.9,1435.5 3014.4,1437.7 3015.9,1440.3 3017.4,1442.8 3018.9,1445.5 3020.4,1447.8 3021.9,1449.5 3023.4,1451.3 3024.9,1453.7 3026.4,1456.4 3027.9,1459.4 3029.4,1462.1 3030.9,1464.8 3032.4,1468.3 3033.9,1472.8 3035.4,1476.9 3036.9,1479.7 3038.4,1482.3 3039.9,1485.9 3041.4,1489.8 3042.9,1493.2 3044.4,1495.4 3045.9,1496.8 3047.4,1498.5 3048.9,1501.5 3050.4,1505.9 3051.9,1510.2 3053.4,1512.3 3054.9,1513.3 3056.4,1515.7 3057.9,1519.3 3059.4,1522.8 3060.9,1525.4 3062.4,1527.6 3063.9,1530.1 3065.4,1532.7 3066.9,1534.8 3068.4,1537.0 3069.9,1539.2 3071.4,1541.3 3072.9,1543.2 3074.4,1545.6 3075.9,1548.4 3077.4,1551.0 3078.9,1553.0 3080.4,1554.6 3081.9,1556.6 3083.4,1559.5 3084.9,1562.7 3086.4,1565.3 3087.9,1567.4 3089.4,1569.0 3090.9,1570.4 3092.4,1572.4 3093.9,1574.6 3095.4,1577.1 3096.9,1580.2 3098.4,1583.8 3099.9,1586.8 3101.4,1588.4 3102.9,1588.4 3104.4,1588.4 3105.9,1590.2 3107.4,1593.2 3108.9,1595.5 3110.4,1596.0 3111.9,1596.2 3113.4,1597.0 3114.9,1597.9 3116.4,1597.6 3117.9,1596.5 3119.4,1596.7 3120.9,1599.3 3122.4,1602.0 3123.9,1602.3 3125.4,1601.6 3126.9,1602.3 3128.4,1604.9 3129.9,1607.5 3131.4,1608.4 3132.9,1608.3 3134.4,1608.8 3135.9,1609.7 3137.4,1610.4 3138.9,1610.5 3140.4,1610.7 3141.9,1611.4 3143.4,1612.8 3144.9,1613.9 3146.4,1613.6 3147.9,1613.0 3149.4,1614.3 3150.9,1617.3 3152.4,1619.2 3153.9,1619.6 3155.4,1620.0 3156.9,1620.1 3158.4,1619.8 3159.9,1620.2 3161.4,1621.5 3162.9,1622.4 3164.4,1622.3 3165.9,1622.8 3167.4,1624.3 3168.9,1624.3 3170.4,1622.8 3171.9,1621.7 3173.4,1622.2 3174.9,1623.5 3176.4,1624.4 3177.9,1624.3 3179.4,1623.7 3180.9,1624.2 3182.4,1625.8 3183.9,1627.4 3185.4,1628.0 3186.9,1627.3 3188.4,1626.4 3189.9,1626.0 3191.4,1626.2 3192.9,1626.5 3194.4,1626.0 3195.9,1625.1 3197.4,1625.3 3198.9,1626.0 3200.4,1626.7 3201.9,1627.7 3203.4,1628.4 3204.9,1628.9 3206.4,1630.0 3207.9,1630.5 3209.4,1630.0 3210.9,1629.7 3212.4,1629.7 3213.9,1628.2 3215.4,1625.6 3216.9,1623.7 3218.4,1622.7 3219.9,1622.1 3221.4,1622.3 3222.9,1623.6 3224.4,1624.6 3225.9,1625.1 3227.4,1624.9 3228.9,1623.9 3230.4,1623.1 3231.9,1622.8 3233.4,1622.8 3234.9,1623.4 3236.4,1624.3 3237.9,1624.8 3239.4,1624.4 3240.9,1623.1 3242.4,1621.6 3243.9,1620.9 3245.4,1621.5 3246.9,1623.4 3248.4,1625.5 3249.9,1627.0 3251.4,1628.1 3252.9,1628.9 3254.4,1628.2 3255.9,1625.7 3257.4,1622.8 3258.9,1621.3 3260.4,1621.4 3261.9,1621.8 3263.4,1621.8 3264.9,1621.9 3266.4,1622.7 3267.9,1623.7 3269.4,1623.9 3270.9,1624.0 3272.4,1624.6 3273.9,1625.8 3275.4,1627.4 3276.9,1628.2 3278.4,1627.1 3279.9,1625.6 3281.4,1625.4 3282.9,1626.9 3284.4,1629.0 3285.9,1629.7 3287.4,1629.5 3288.9,1630.4 3290.4,1632.2 3291.9,1632.8 3293.4,1631.5 3294.9,1630.4 3296.4,1631.5 3297.9,1634.4 3299.4,1637.5 3300.9,1638.8 3302.4,1637.9 3303.9,1636.5 3305.4,1636.3 3306.9,1636.7 3308.4,1637.4 3309.9,1638.4 3311.4,1638.9 3312.9,1639.1 3314.4,1640.4 3315.9,1642.8 3317.4,1644.3 3318.9,1644.4 3320.4,1644.6 3321.9,1644.5 3323.4,1643.1 3324.9,1641.6 3326.4,1641.2 3327.9,1642.0 3329.4,1642.7 3330.9,1642.4 3332.4,1641.4 3333.9,1640.8 3335.4,1641.5 3336.9,1643.6 3338.4,1645.6 3339.9,1646.6 3341.4,1647.6 3342.9,1649.0 3344.4,1649.5 3345.9,1649.3 3347.4,1649.9 3348.9,1651.2 3350.4,1651.8 3351.9,1652.0 3353.4,1652.8 3354.9,1654.1 3356.4,1655.0 3357.9,1655.4 3359.4,1655.9 3360.9,1656.2 3362.4,1656.7 3363.9,1657.7 3365.4,1658.2 3366.9,1658.2 3368.4,1657.9 3369.9,1657.0 3371.4,1656.7 3372.9,1658.2 3374.4,1660.3 3375.9,1661.6 3377.4,1662.6 3378.9,1663.9 3380.4,1665.6 3381.9,1667.0 3383.4,1666.4 3384.9,1662.7 3386.4,1659.1 3387.9,1658.4 3389.4,1659.8 3390.9,1661.2 3392.4,1661.4 3393.9,1660.8 3395.4,1660.7 3396.9,1661.2 3398.4,1661.4 3399.9,1662.2 3401.4,1664.2 3402.9,1666.0 3404.4,1666.5 3405.9,1666.3 3407.4,1666.5 3408.9,1668.1 3410.4,1670.2 3411.9,1671.0 3413.4,1670.2 3414.9,1669.2 3416.4,1669.5 3417.9,1670.5 3419.4,1669.9 3420.9,1667.4 3422.4,1665.2 3423.9,1665.1 3425.4,1667.2 3426.9,1669.9 3428.4,1671.1 3429.9,1671.8 3431.4,1673.8 3432.9,1675.7 3434.4,1674.7 3435.9,1671.8 3437.4,1669.4 3438.9,1668.6 3440.4,1670.1 3441.9,1674.1 3443.4,1677.6 3444.9,1678.0 3446.4,1676.1 3447.9,1674.6 3449.4,1674.2 3450.9,1673.3 3452.4,1672.0 3453.9,1672.8 3455.4,1675.7 3456.9,1678.1 3458.4,1679.0 3459.9,1678.7 3461.4,1678.0 3462.9,1677.5 3464.4,1678.3 3465.9,1679.2 3467.4,1678.8 3468.9,1677.5 3470.4,1676.0 3471.9,1674.8 3473.4,1675.0 3474.9,1677.1 3476.4,1678.9 3477.9,1678.6 3479.4,1677.7 3480.9,1677.6 3482.4,1677.0 3483.9,1675.3 3485.4,1675.1 3486.9,1677.2 3488.4,1678.6 3489.9,1677.3 3491.4,1675.4 3492.9,1675.9 3494.4,1678.6 3495.9,1680.5 3497.4,1680.5 3498.9,1679.6 3500.4,1678.8 3501.9,1678.0 3503.4,1677.5 3504.9,1677.8 3506.4,1678.8 3507.9,1680.2 3509.4,1681.3 3510.9,1681.6 3512.4,1681.5 3513.9,1681.4 3515.4,1681.3 3516.9,1682.0 3518.4,1682.6 3519.9,1681.7 3521.4,1680.9 3522.9,1682.0 3524.4,1683.2 3525.9,1681.6 3527.4,1678.8 3528.9,1677.9 3530.4,1679.1 3531.9,1680.9 3533.4,1682.2 3534.9,1682.7 3536.4,1682.6 3537.9,1681.0 3539.4,1678.8 3540.9,1678.1 3542.4,1679.4 3543.9,1681.4 3545.4,1682.6 3546.9,1682.2 3548.4,1679.9 3549.9,1676.6 3551.4,1675.4 3552.9,1677.3 3554.4,1679.6 3555.9,1680.4 3557.4,1681.3 3558.9,1683.2 3560.4,1684.2 3561.9,1683.0 3563.4,1681.6 3564.9,1682.3 3566.4,1684.1 3567.9,1685.1 3569.4,1685.5 3570.9,1685.7 3572.4,1684.9 3573.9,1684.1 3575.4,1684.5 3576.9,1685.2 3578.4,1685.2 3579.9,1684.1 3581.4,1682.7 3582.9,1681.8 3584.4,1681.9 3585.9,1682.2 3587.4,1682.0 3588.9,1681.3 3590.4,1680.8 3591.9,1680.8 3593.4,1681.3 3594.9,1681.9 3596.4,1682.0 3597.9,1681.3 3599.4,1680.3 3600.9,1680.2 3602.4,1681.1 3603.9,1681.5 3605.4,1681.4 3606.9,1681.9 3608.4,1682.6 3609.9,1683.5 3611.4,1685.2 3612.9,1687.4 3614.4,1688.4 3615.9,1687.5 3617.4,1685.5 3618.9,1684.7 3620.4,1685.9 3621.9,1687.1 3623.4,1687.0 3624.9,1685.9 3626.4,1684.7 3627.9,1684.6 3629.4,1685.4 3630.9,1685.4 3632.4,1684.7 3633.9,1684.9 3635.4,1685.6 3636.9,1686.1 3638.4,1686.7 3639.9,1687.2 3641.4,1686.8 3642.9,1685.2 3644.4,1683.7 3645.9,1683.2 3647.4,1682.8 3648.9,1682.3 3650.4,1682.4 3651.9,1683.4 3653.4,1685.3 3654.9,1686.4 3656.4,1686.2 3657.9,1685.9 3659.4,1685.4 3660.9,1684.2 3662.4,1683.4 3663.9,1683.9 3665.4,1684.9 3666.9,1685.6 3668.4,1686.0 3669.9,1686.4 3671.4,1686.8 3672.9,1687.3 3674.4,1687.5 3675.9,1687.2 3677.4,1686.6 3678.9,1685.9 3680.4,1685.2 3681.9,1685.2 3683.4,1686.1 3684.9,1686.7 3686.4,1686.4 3687.9,1685.6 3689.4,1684.6 3690.9,1684.0 3692.4,1684.5 3693.9,1684.5 3695.4,1682.8 3696.9,1681.5 3698.4,1682.4 3699.9,1684.5 3701.4,1685.9 3702.9,1685.5 3704.4,1684.1 3705.9,1683.2 3707.4,1682.7 3708.9,1682.1 3710.4,1681.8 3711.9,1682.3 3713.4,1683.2 3714.9,1683.6 3716.4,1682.9 3717.9,1682.0 3719.4,1681.6 3720.9,1682.2 3722.4,1682.9 3723.9,1683.1 3725.4,1683.3 3726.9,1683.7 3728.4,1684.6 3729.9,1684.0 3731.4,1681.1 3732.9,1678.5" fill="none" stroke="#58c3d0" stroke-width="14" stroke-linejoin="round"/>
<polyline clip-path="url(#cg)" points="2843.4,1553.6 2844.9,1549.1 2846.4,1545.2 2847.9,1544.1 2849.4,1538.1 2850.9,1539.1 2852.4,1541.8 2853.9,1534.7 2855.4,1535.4 2856.9,1537.7 2858.4,1538.6 2859.9,1527.6 2861.4,1526.8 2862.9,1521.4 2864.4,1519.2 2865.9,1517.9 2867.4,1514.2 2868.9,1507.0 2870.4,1502.4 2871.9,1502.7 2873.4,1502.0 2874.9,1501.9 2876.4,1492.4 2877.9,1489.0 2879.4,1487.0 2880.9,1482.8 2882.4,1476.2 2883.9,1480.6 2885.4,1474.8 2886.9,1463.1 2888.4,1457.8 2889.9,1448.8 2891.4,1447.8 2892.9,1437.5 2894.4,1437.4 2895.9,1424.1 2897.4,1421.0 2898.9,1413.9 2900.4,1408.3 2901.9,1391.5 2903.4,1393.1 2904.9,1380.1 2906.4,1370.7 2907.9,1360.7 2909.4,1351.4 2910.9,1342.6 2912.4,1338.3 2913.9,1329.5 2915.4,1320.7 2916.9,1310.6 2918.4,1306.2 2919.9,1306.4 2921.4,1293.8 2922.9,1284.7 2924.4,1284.3 2925.9,1270.3 2927.4,1267.1 2928.9,1260.1 2930.4,1254.6 2931.9,1251.4 2933.4,1245.9 2934.9,1238.5 2936.4,1238.0 2937.9,1236.4 2939.4,1232.5 2940.9,1231.4 2942.4,1227.5 2943.9,1227.6 2945.4,1232.4 2946.9,1232.1 2948.4,1239.8 2949.9,1242.6 2951.4,1246.6 2952.9,1259.7 2954.4,1260.3 2955.9,1265.5 2957.4,1269.2 2958.9,1271.6 2960.4,1274.3 2961.9,1287.1 2963.4,1291.4 2964.9,1295.0 2966.4,1310.8 2967.9,1318.0 2969.4,1314.4 2970.9,1320.2 2972.4,1331.7 2973.9,1331.2 2975.4,1338.2 2976.9,1340.3 2978.4,1348.4 2979.9,1358.3 2981.4,1357.8 2982.9,1364.7 2984.4,1369.6 2985.9,1371.4 2987.4,1382.7 2988.9,1378.4 2990.4,1384.0 2991.9,1385.7 2993.4,1400.6 2994.9,1397.7 2996.4,1403.5 2997.9,1409.7 2999.4,1407.6 3000.9,1412.0 3002.4,1411.5 3003.9,1415.5 3005.4,1416.4 3006.9,1423.1 3008.4,1426.3 3009.9,1429.6 3011.4,1433.2 3012.9,1435.2 3014.4,1436.2 3015.9,1448.0 3017.4,1445.0 3018.9,1446.1 3020.4,1444.2 3021.9,1451.1 3023.4,1447.5 3024.9,1454.3 3026.4,1456.6 3027.9,1457.6 3029.4,1459.6 3030.9,1462.7 3032.4,1474.7 3033.9,1472.1 3035.4,1476.3 3036.9,1482.7 3038.4,1483.7 3039.9,1489.3 3041.4,1486.1 3042.9,1489.9 3044.4,1505.0 3045.9,1496.8 3047.4,1497.7 3048.9,1502.1 3050.4,1509.0 3051.9,1506.6 3053.4,1513.3 3054.9,1513.3 3056.4,1517.9 3057.9,1520.0 3059.4,1521.3 3060.9,1522.8 3062.4,1520.1 3063.9,1536.3 3065.4,1528.2 3066.9,1533.7 3068.4,1542.2 3069.9,1538.0 3071.4,1543.3 3072.9,1542.6 3074.4,1547.8 3075.9,1548.5 3077.4,1549.5 3078.9,1557.3 3080.4,1553.8 3081.9,1552.6 3083.4,1558.6 3084.9,1564.4 3086.4,1562.0 3087.9,1569.9 3089.4,1571.4 3090.9,1577.0 3092.4,1570.5 3093.9,1576.7 3095.4,1572.0 3096.9,1579.0 3098.4,1584.2 3099.9,1588.1 3101.4,1588.3 3102.9,1588.2 3104.4,1586.6 3105.9,1588.9 3107.4,1594.3 3108.9,1597.3 3110.4,1598.1 3111.9,1599.3 3113.4,1592.2 3114.9,1598.1 3116.4,1591.2 3117.9,1596.0 3119.4,1594.8 3120.9,1602.6 3122.4,1604.4 3123.9,1602.1 3125.4,1602.0 3126.9,1606.3 3128.4,1603.9 3129.9,1606.6 3131.4,1611.2 3132.9,1609.8 3134.4,1613.2 3135.9,1612.7 3137.4,1612.7 3138.9,1608.9 3140.4,1607.9 3141.9,1611.5 3143.4,1609.7 3144.9,1615.2 3146.4,1616.7 3147.9,1613.3 3149.4,1613.7 3150.9,1620.8 3152.4,1619.1 3153.9,1622.7 3155.4,1626.8 3156.9,1622.4 3158.4,1622.8 3159.9,1621.8 3161.4,1622.3 3162.9,1623.3 3164.4,1622.6 3165.9,1626.2 3167.4,1619.4 3168.9,1623.6 3170.4,1624.9 3171.9,1619.2 3173.4,1622.0 3174.9,1621.4 3176.4,1625.8 3177.9,1627.0 3179.4,1628.3 3180.9,1625.8 3182.4,1623.7 3183.9,1628.3 3185.4,1629.8 3186.9,1631.7 3188.4,1622.1 3189.9,1627.2 3191.4,1620.7 3192.9,1628.8 3194.4,1627.4 3195.9,1626.7 3197.4,1628.1 3198.9,1627.2 3200.4,1624.8 3201.9,1628.9 3203.4,1632.1 3204.9,1628.7 3206.4,1630.2 3207.9,1626.9 3209.4,1633.6 3210.9,1628.3 3212.4,1627.5 3213.9,1626.9 3215.4,1623.1 3216.9,1623.0 3218.4,1626.7 3219.9,1624.6 3221.4,1626.8 3222.9,1628.2 3224.4,1622.0 3225.9,1626.7 3227.4,1629.5 3228.9,1631.0 3230.4,1618.9 3231.9,1618.5 3233.4,1624.4 3234.9,1622.5 3236.4,1621.4 3237.9,1626.1 3239.4,1622.1 3240.9,1616.2 3242.4,1621.6 3243.9,1621.3 3245.4,1623.5 3246.9,1625.7 3248.4,1626.2 3249.9,1626.4 3251.4,1626.1 3252.9,1623.9 3254.4,1626.9 3255.9,1628.8 3257.4,1624.8 3258.9,1627.6 3260.4,1621.1 3261.9,1616.5 3263.4,1624.4 3264.9,1625.1 3266.4,1619.2 3267.9,1618.8 3269.4,1624.4 3270.9,1626.3 3272.4,1621.2 3273.9,1624.8 3275.4,1625.1 3276.9,1624.6 3278.4,1623.1 3279.9,1626.1 3281.4,1624.4 3282.9,1624.9 3284.4,1621.0 3285.9,1635.1 3287.4,1626.7 3288.9,1630.0 3290.4,1628.8 3291.9,1634.0 3293.4,1626.9 3294.9,1630.8 3296.4,1631.0 3297.9,1637.3 3299.4,1627.9 3300.9,1636.9 3302.4,1637.2 3303.9,1643.0 3305.4,1631.8 3306.9,1637.6 3308.4,1635.4 3309.9,1639.4 3311.4,1641.0 3312.9,1639.6 3314.4,1641.2 3315.9,1643.7 3317.4,1642.5 3318.9,1643.8 3320.4,1639.6 3321.9,1643.4 3323.4,1641.5 3324.9,1640.8 3326.4,1643.5 3327.9,1643.2 3329.4,1644.2 3330.9,1645.8 3332.4,1634.2 3333.9,1642.1 3335.4,1646.2 3336.9,1643.3 3338.4,1641.6 3339.9,1648.3 3341.4,1651.1 3342.9,1652.1 3344.4,1649.3 3345.9,1651.3 3347.4,1652.8 3348.9,1656.8 3350.4,1655.5 3351.9,1652.4 3353.4,1653.1 3354.9,1654.7 3356.4,1655.7 3357.9,1653.9 3359.4,1658.3 3360.9,1654.1 3362.4,1654.2 3363.9,1658.8 3365.4,1656.5 3366.9,1657.5 3368.4,1651.6 3369.9,1659.5 3371.4,1656.7 3372.9,1657.8 3374.4,1661.7 3375.9,1662.3 3377.4,1660.5 3378.9,1670.1 3380.4,1664.2 3381.9,1670.0 3383.4,1672.0 3384.9,1660.8 3386.4,1659.4 3387.9,1655.9 3389.4,1663.0 3390.9,1660.2 3392.4,1658.0 3393.9,1664.8 3395.4,1663.5 3396.9,1658.5 3398.4,1665.0 3399.9,1670.0 3401.4,1672.5 3402.9,1671.2 3404.4,1664.8 3405.9,1665.4 3407.4,1663.8 3408.9,1668.5 3410.4,1670.3 3411.9,1676.0 3413.4,1670.5 3414.9,1664.7 3416.4,1667.0 3417.9,1674.8 3419.4,1673.5 3420.9,1667.0 3422.4,1674.8 3423.9,1664.6 3425.4,1667.3 3426.9,1664.8 3428.4,1673.9 3429.9,1669.8 3431.4,1674.2 3432.9,1667.9 3434.4,1675.4 3435.9,1675.9 3437.4,1662.6 3438.9,1673.2 3440.4,1671.5 3441.9,1671.8 3443.4,1672.8 3444.9,1681.6 3446.4,1676.9 3447.9,1676.4 3449.4,1673.4 3450.9,1670.9 3452.4,1674.7 3453.9,1669.8 3455.4,1678.5 3456.9,1673.0 3458.4,1676.1 3459.9,1674.3 3461.4,1682.0 3462.9,1672.2 3464.4,1674.8 3465.9,1681.2 3467.4,1679.5 3468.9,1684.2 3470.4,1681.7 3471.9,1676.6 3473.4,1677.1 3474.9,1671.5 3476.4,1676.2 3477.9,1677.6 3479.4,1677.1 3480.9,1673.4 3482.4,1674.2 3483.9,1672.8 3485.4,1678.3 3486.9,1678.5 3488.4,1677.6 3489.9,1676.5 3491.4,1676.3 3492.9,1673.8 3494.4,1677.8 3495.9,1675.2 3497.4,1682.5 3498.9,1682.6 3500.4,1679.9 3501.9,1679.5 3503.4,1687.1 3504.9,1684.0 3506.4,1679.4 3507.9,1676.1 3509.4,1678.1 3510.9,1683.8 3512.4,1684.8 3513.9,1683.7 3515.4,1683.9 3516.9,1687.5 3518.4,1678.0 3519.9,1679.6 3521.4,1675.3 3522.9,1687.8 3524.4,1679.0 3525.9,1681.9 3527.4,1678.2 3528.9,1671.9 3530.4,1681.4 3531.9,1683.2 3533.4,1677.9 3534.9,1683.2 3536.4,1684.8 3537.9,1680.1 3539.4,1681.4 3540.9,1678.7 3542.4,1682.7 3543.9,1682.0 3545.4,1682.1 3546.9,1683.8 3548.4,1682.3 3549.9,1677.4 3551.4,1674.0 3552.9,1674.8 3554.4,1678.4 3555.9,1678.6 3557.4,1690.9 3558.9,1683.7 3560.4,1683.9 3561.9,1682.9 3563.4,1682.1 3564.9,1687.1 3566.4,1687.7 3567.9,1683.2 3569.4,1687.1 3570.9,1684.6 3572.4,1684.6 3573.9,1683.3 3575.4,1682.5 3576.9,1681.0 3578.4,1677.5 3579.9,1684.7 3581.4,1686.3 3582.9,1679.0 3584.4,1683.5 3585.9,1681.0 3587.4,1682.8 3588.9,1678.8 3590.4,1680.0 3591.9,1680.4 3593.4,1673.9 3594.9,1682.5 3596.4,1681.5 3597.9,1673.6 3599.4,1682.2 3600.9,1680.0 3602.4,1681.6 3603.9,1682.6 3605.4,1680.1 3606.9,1678.5 3608.4,1681.2 3609.9,1682.1 3611.4,1692.0 3612.9,1693.0 3614.4,1686.8 3615.9,1686.1 3617.4,1686.4 3618.9,1686.4 3620.4,1683.6 3621.9,1684.0 3623.4,1692.9 3624.9,1689.1 3626.4,1679.8 3627.9,1679.1 3629.4,1682.7 3630.9,1686.0 3632.4,1686.4 3633.9,1683.7 3635.4,1680.5 3636.9,1686.7 3638.4,1688.5 3639.9,1687.1 3641.4,1685.2 3642.9,1686.9 3644.4,1683.4 3645.9,1679.6 3647.4,1682.9 3648.9,1678.2 3650.4,1685.3 3651.9,1684.8 3653.4,1682.1 3654.9,1687.0 3656.4,1690.0 3657.9,1679.1 3659.4,1684.9 3660.9,1689.3 3662.4,1678.5 3663.9,1683.3 3665.4,1680.4 3666.9,1685.3 3668.4,1678.5 3669.9,1681.3 3671.4,1685.1 3672.9,1687.6 3674.4,1688.5 3675.9,1688.4 3677.4,1690.1 3678.9,1688.0 3680.4,1687.4 3681.9,1682.1 3683.4,1685.5 3684.9,1696.3 3686.4,1693.4 3687.9,1688.1 3689.4,1686.8 3690.9,1687.0 3692.4,1683.2 3693.9,1690.5 3695.4,1681.5 3696.9,1681.1 3698.4,1689.1 3699.9,1677.8 3701.4,1686.9 3702.9,1680.0 3704.4,1682.0 3705.9,1682.8 3707.4,1681.5 3708.9,1687.9 3710.4,1679.3 3711.9,1681.9 3713.4,1679.4 3714.9,1682.3 3716.4,1678.4 3717.9,1683.9 3719.4,1677.5 3720.9,1684.3 3722.4,1681.5 3723.9,1682.1 3725.4,1686.9 3726.9,1684.0 3728.4,1685.3 3729.9,1685.4 3731.4,1671.9 3732.9,1679.3" fill="none" stroke="#58c3d0" stroke-width="3.4" stroke-linejoin="miter"/>
<line x1="2942.2" y1="1228" x2="2942.2" y2="1202" stroke="#58c3d0" stroke-width="4.5"/>
<line x1="2941.5" y1="1372" x2="2941.5" y2="1357" stroke="#5f6272" stroke-width="4.5"/>
<rect x="2843.4" y="1079.6" width="890.2999999999997" height="887.6000000000001" fill="none" stroke="#0d0d10" stroke-width="6.8"/>
<line x1="2843.4" y1="1964.2" x2="2843.4" y2="2002.7" stroke="#0d0d10" stroke-width="6.5"/>
<line x1="2907.0" y1="1967.2" x2="2907.0" y2="1987.0" stroke="#0d0d10" stroke-width="5.4"/>
<line x1="2970.6" y1="1964.2" x2="2970.6" y2="2002.7" stroke="#0d0d10" stroke-width="6.5"/>
<line x1="3034.2" y1="1967.2" x2="3034.2" y2="1987.0" stroke="#0d0d10" stroke-width="5.4"/>
<line x1="3097.8" y1="1964.2" x2="3097.8" y2="2002.7" stroke="#0d0d10" stroke-width="6.5"/>
<line x1="3161.4" y1="1967.2" x2="3161.4" y2="1987.0" stroke="#0d0d10" stroke-width="5.4"/>
<line x1="3225.0" y1="1964.2" x2="3225.0" y2="2002.7" stroke="#0d0d10" stroke-width="6.5"/>
<line x1="3288.6" y1="1967.2" x2="3288.6" y2="1987.0" stroke="#0d0d10" stroke-width="5.4"/>
<line x1="3352.1" y1="1964.2" x2="3352.1" y2="2002.7" stroke="#0d0d10" stroke-width="6.5"/>
<line x1="3415.7" y1="1967.2" x2="3415.7" y2="1987.0" stroke="#0d0d10" stroke-width="5.4"/>
<line x1="3479.3" y1="1964.2" x2="3479.3" y2="2002.7" stroke="#0d0d10" stroke-width="6.5"/>
<line x1="3542.9" y1="1967.2" x2="3542.9" y2="1987.0" stroke="#0d0d10" stroke-width="5.4"/>
<line x1="3606.5" y1="1964.2" x2="3606.5" y2="2002.7" stroke="#0d0d10" stroke-width="6.5"/>
<line x1="3670.1" y1="1967.2" x2="3670.1" y2="1987.0" stroke="#0d0d10" stroke-width="5.4"/>
<line x1="3733.7" y1="1964.2" x2="3733.7" y2="2002.7" stroke="#0d0d10" stroke-width="6.5"/>
<text x="2844.9" y="2070.7" font-size="62" text-anchor="middle" fill="#0d0d10" >10</text>
<text x="2972.1" y="2070.7" font-size="62" text-anchor="middle" fill="#0d0d10" >20</text>
<text x="3099.3" y="2070.7" font-size="62" text-anchor="middle" fill="#0d0d10" >30</text>
<text x="3226.5" y="2070.7" font-size="62" text-anchor="middle" fill="#0d0d10" >40</text>
<text x="3353.6" y="2070.7" font-size="62" text-anchor="middle" fill="#0d0d10" >50</text>
<text x="3480.8" y="2070.7" font-size="62" text-anchor="middle" fill="#0d0d10" >60</text>
<text x="3608.0" y="2070.7" font-size="62" text-anchor="middle" fill="#0d0d10" >70</text>
<text x="3735.2" y="2070.7" font-size="62" text-anchor="middle" fill="#0d0d10" >80</text>
<text x="3229.8" y="2151" font-size="63" fill="#0d0d10" textLength="140.5" lengthAdjust="spacingAndGlyphs">2<tspan font-style="italic">θ</tspan> (°)</text>
<text transform="translate(2810.9 1726.4) rotate(-90)" font-size="63" fill="#0d0d10" textLength="390" lengthAdjust="spacingAndGlyphs">Intensity (a.u.)</text>
<line x1="3406.4" y1="1148.9" x2="3504" y2="1148.9" stroke="#7b7e8c" stroke-width="7.4"/>
<line x1="3406.4" y1="1245" x2="3504" y2="1245" stroke="#6cc6cf" stroke-width="7.4"/>
<text x="3527.2" y="1167" font-size="63" fill="#0d0d10" textLength="151.5" lengthAdjust="spacingAndGlyphs">O-CD</text>
<text x="3527.7" y="1267" font-size="63" fill="#0d0d10" textLength="148.5" lengthAdjust="spacingAndGlyphs">N-CD</text>
</svg>
</body></html>
